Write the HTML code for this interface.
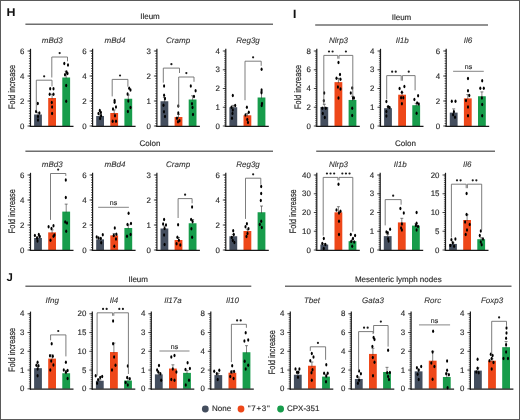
<!DOCTYPE html>
<html><head><meta charset="utf-8"><style>
html,body{margin:0;padding:0;background:#fff;}
#f{position:relative;width:520px;height:420px;overflow:hidden;background:#fff;}
svg{position:absolute;left:0;top:0;font-family:"Liberation Sans", sans-serif;will-change:transform;text-rendering:geometricPrecision;filter:blur(0.3px);}
</style></head><body><div id="f">
<svg width="520" height="420" viewBox="0 0 520 420">
<rect x="0.5" y="0.5" width="519" height="419" fill="#fff" stroke="#5a5a5a" stroke-width="1"/>
<text x="6.40" y="16.20" font-size="11.4" text-anchor="start" fill="#111" font-weight="bold" textLength="9.0" lengthAdjust="spacingAndGlyphs">H</text>
<text x="292.90" y="17.80" font-size="12" text-anchor="start" fill="#111" font-weight="bold" stroke="#111" stroke-width="0.1" >I</text>
<text x="6.40" y="280.60" font-size="11.4" text-anchor="start" fill="#111" font-weight="bold" >J</text>
<line x1="25.40" y1="24.20" x2="273.00" y2="24.20" stroke="#6e6e6e" stroke-width="1.6"/>
<text x="150.00" y="18.80" font-size="8" text-anchor="middle" fill="#2a2a2a" stroke="#2a2a2a" stroke-width="0.15" >Ileum</text>
<line x1="25.40" y1="151.30" x2="273.00" y2="151.30" stroke="#6e6e6e" stroke-width="1.6"/>
<text x="150.00" y="146.40" font-size="8" text-anchor="middle" fill="#2a2a2a" stroke="#2a2a2a" stroke-width="0.15" >Colon</text>
<line x1="315.20" y1="25.00" x2="488.00" y2="25.00" stroke="#6e6e6e" stroke-width="1.6"/>
<text x="401.50" y="19.80" font-size="8" text-anchor="middle" fill="#2a2a2a" stroke="#2a2a2a" stroke-width="0.15" >Ileum</text>
<line x1="316.20" y1="151.30" x2="495.00" y2="151.30" stroke="#6e6e6e" stroke-width="1.6"/>
<text x="405.40" y="146.40" font-size="8" text-anchor="middle" fill="#2a2a2a" stroke="#2a2a2a" stroke-width="0.15" >Colon</text>
<line x1="25.40" y1="286.30" x2="251.30" y2="286.30" stroke="#6e6e6e" stroke-width="1.6"/>
<text x="138.20" y="282.00" font-size="8" text-anchor="middle" fill="#2a2a2a" stroke="#2a2a2a" stroke-width="0.15" >Ileum</text>
<line x1="285.00" y1="286.30" x2="511.50" y2="286.30" stroke="#6e6e6e" stroke-width="1.6"/>
<text x="398.30" y="281.80" font-size="8" text-anchor="middle" fill="#2a2a2a" stroke="#2a2a2a" stroke-width="0.15" >Mesenteric lymph nodes</text>
<text transform="translate(12.40,87.00) rotate(-90) scale(0.78,1)" x="0" y="0" font-size="9.4" text-anchor="middle" fill="#2a2a2a" stroke="#2a2a2a" stroke-width="0.2" dominant-baseline="middle">Fold increase</text>
<text transform="translate(12.40,211.20) rotate(-90) scale(0.78,1)" x="0" y="0" font-size="9.4" text-anchor="middle" fill="#2a2a2a" stroke="#2a2a2a" stroke-width="0.2" dominant-baseline="middle">Fold increase</text>
<text transform="translate(299.00,87.00) rotate(-90) scale(0.78,1)" x="0" y="0" font-size="9.4" text-anchor="middle" fill="#2a2a2a" stroke="#2a2a2a" stroke-width="0.2" dominant-baseline="middle">Fold increase</text>
<text transform="translate(293.60,211.30) rotate(-90) scale(0.78,1)" x="0" y="0" font-size="9.4" text-anchor="middle" fill="#2a2a2a" stroke="#2a2a2a" stroke-width="0.2" dominant-baseline="middle">Fold increase</text>
<text transform="translate(12.50,349.80) rotate(-90) scale(0.78,1)" x="0" y="0" font-size="9.4" text-anchor="middle" fill="#2a2a2a" stroke="#2a2a2a" stroke-width="0.2" dominant-baseline="middle">Fold increase</text>
<text transform="translate(272.50,352.20) rotate(-90) scale(0.78,1)" x="0" y="0" font-size="9.4" text-anchor="middle" fill="#2a2a2a" stroke="#2a2a2a" stroke-width="0.2" dominant-baseline="middle">Fold increase</text>
<path d="M30.50 126.00h-1.6M30.50 123.50h-1.6M30.50 121.00h-1.6M30.50 118.50h-1.6M30.50 116.00h-1.6M30.50 113.50h-1.6M30.50 111.00h-1.6M30.50 108.50h-1.6M30.50 106.00h-1.6M30.50 103.50h-1.6M30.50 101.00h-1.6M30.50 98.50h-1.6M30.50 96.00h-1.6M30.50 93.50h-1.6M30.50 91.00h-1.6M30.50 88.50h-1.6M30.50 86.00h-1.6M30.50 83.50h-1.6M30.50 81.00h-1.6M30.50 78.50h-1.6M30.50 76.00h-1.6M30.50 73.50h-1.6M30.50 71.00h-1.6M30.50 68.50h-1.6M30.50 66.00h-1.6M30.50 63.50h-1.6M30.50 61.00h-1.6M30.50 58.50h-1.6M30.50 56.00h-1.6M30.50 53.50h-1.6M30.50 51.00h-1.6" stroke="#222" stroke-width="0.7"/>
<line x1="27.50" y1="126.00" x2="30.50" y2="126.00" stroke="#222" stroke-width="0.8"/>
<text x="24.50" y="128.50" font-size="7.9" text-anchor="end" fill="#2a2a2a" stroke="#2a2a2a" stroke-width="0.15" >0</text>
<line x1="27.50" y1="101.00" x2="30.50" y2="101.00" stroke="#222" stroke-width="0.8"/>
<text x="24.50" y="103.50" font-size="7.9" text-anchor="end" fill="#2a2a2a" stroke="#2a2a2a" stroke-width="0.15" >2</text>
<line x1="27.50" y1="76.00" x2="30.50" y2="76.00" stroke="#222" stroke-width="0.8"/>
<text x="24.50" y="78.50" font-size="7.9" text-anchor="end" fill="#2a2a2a" stroke="#2a2a2a" stroke-width="0.15" >4</text>
<line x1="27.50" y1="51.00" x2="30.50" y2="51.00" stroke="#222" stroke-width="0.8"/>
<text x="24.50" y="53.50" font-size="7.9" text-anchor="end" fill="#2a2a2a" stroke="#2a2a2a" stroke-width="0.15" >6</text>
<rect x="34.10" y="114.50" width="7.8" height="11.50" fill="#444e5e"/>
<rect x="48.20" y="98.00" width="7.8" height="28.00" fill="#ee4719"/>
<rect x="62.30" y="77.50" width="7.8" height="48.50" fill="#179c4b"/>
<line x1="30.50" y1="48.80" x2="30.50" y2="126.90" stroke="#1a1a1a" stroke-width="1.2"/>
<line x1="30.00" y1="126.30" x2="73.50" y2="126.30" stroke="#1a1a1a" stroke-width="1.3"/>
<line x1="38.00" y1="115.50" x2="38.00" y2="112.62" stroke="#333" stroke-width="0.6"/>
<line x1="36.50" y1="112.62" x2="39.50" y2="112.62" stroke="#333" stroke-width="0.6"/>
<line x1="52.10" y1="99.00" x2="52.10" y2="94.25" stroke="#333" stroke-width="0.6"/>
<line x1="50.60" y1="94.25" x2="53.60" y2="94.25" stroke="#333" stroke-width="0.6"/>
<line x1="66.20" y1="78.50" x2="66.20" y2="71.25" stroke="#333" stroke-width="0.6"/>
<line x1="64.70" y1="71.25" x2="67.70" y2="71.25" stroke="#333" stroke-width="0.6"/>
<ellipse cx="37.80" cy="103.38" rx="1.05" ry="1.75" fill="#000"/>
<ellipse cx="36.10" cy="111.50" rx="1.05" ry="1.75" fill="#000"/>
<ellipse cx="39.40" cy="113.12" rx="1.05" ry="1.75" fill="#000"/>
<ellipse cx="38.00" cy="116.62" rx="1.05" ry="1.75" fill="#000"/>
<ellipse cx="38.00" cy="119.88" rx="1.05" ry="1.75" fill="#000"/>
<ellipse cx="50.20" cy="88.75" rx="1.05" ry="1.75" fill="#000"/>
<ellipse cx="53.50" cy="88.75" rx="1.05" ry="1.75" fill="#000"/>
<ellipse cx="49.70" cy="94.25" rx="1.05" ry="1.75" fill="#000"/>
<ellipse cx="53.50" cy="94.25" rx="1.05" ry="1.75" fill="#000"/>
<ellipse cx="51.80" cy="102.38" rx="1.05" ry="1.75" fill="#000"/>
<ellipse cx="52.10" cy="106.88" rx="1.05" ry="1.75" fill="#000"/>
<ellipse cx="52.10" cy="113.50" rx="1.05" ry="1.75" fill="#000"/>
<ellipse cx="64.30" cy="63.62" rx="1.05" ry="1.75" fill="#000"/>
<ellipse cx="68.00" cy="64.88" rx="1.05" ry="1.75" fill="#000"/>
<ellipse cx="66.40" cy="72.12" rx="1.05" ry="1.75" fill="#000"/>
<ellipse cx="65.00" cy="74.75" rx="1.05" ry="1.75" fill="#000"/>
<ellipse cx="67.50" cy="73.50" rx="1.05" ry="1.75" fill="#000"/>
<ellipse cx="66.20" cy="85.62" rx="1.05" ry="1.75" fill="#000"/>
<ellipse cx="66.20" cy="101.25" rx="1.05" ry="1.75" fill="#000"/>
<text x="52.20" y="42.70" font-size="8" text-anchor="middle" fill="#333" font-style="italic" stroke="#333" stroke-width="0.1" >mBd3</text>
<polyline points="36.30,110.70 36.30,80.20 52.00,80.20 52.00,86.30" fill="none" stroke="#666" stroke-width="0.85"/>
<ellipse cx="44.15" cy="76.30" rx="1.1" ry="1.1" fill="#1a1a1a"/>
<polyline points="51.80,77.50 51.80,57.00 67.50,57.00 67.50,61.30" fill="none" stroke="#666" stroke-width="0.85"/>
<ellipse cx="59.65" cy="53.10" rx="1.1" ry="1.1" fill="#1a1a1a"/>
<path d="M92.60 126.00h-1.6M92.60 123.50h-1.6M92.60 121.00h-1.6M92.60 118.50h-1.6M92.60 116.00h-1.6M92.60 113.50h-1.6M92.60 111.00h-1.6M92.60 108.50h-1.6M92.60 106.00h-1.6M92.60 103.50h-1.6M92.60 101.00h-1.6M92.60 98.50h-1.6M92.60 96.00h-1.6M92.60 93.50h-1.6M92.60 91.00h-1.6M92.60 88.50h-1.6M92.60 86.00h-1.6M92.60 83.50h-1.6M92.60 81.00h-1.6M92.60 78.50h-1.6M92.60 76.00h-1.6M92.60 73.50h-1.6M92.60 71.00h-1.6M92.60 68.50h-1.6M92.60 66.00h-1.6M92.60 63.50h-1.6M92.60 61.00h-1.6M92.60 58.50h-1.6M92.60 56.00h-1.6M92.60 53.50h-1.6M92.60 51.00h-1.6" stroke="#222" stroke-width="0.7"/>
<line x1="89.60" y1="126.00" x2="92.60" y2="126.00" stroke="#222" stroke-width="0.8"/>
<text x="86.60" y="128.50" font-size="7.9" text-anchor="end" fill="#2a2a2a" stroke="#2a2a2a" stroke-width="0.15" >0</text>
<line x1="89.60" y1="101.00" x2="92.60" y2="101.00" stroke="#222" stroke-width="0.8"/>
<text x="86.60" y="103.50" font-size="7.9" text-anchor="end" fill="#2a2a2a" stroke="#2a2a2a" stroke-width="0.15" >2</text>
<line x1="89.60" y1="76.00" x2="92.60" y2="76.00" stroke="#222" stroke-width="0.8"/>
<text x="86.60" y="78.50" font-size="7.9" text-anchor="end" fill="#2a2a2a" stroke="#2a2a2a" stroke-width="0.15" >4</text>
<line x1="89.60" y1="51.00" x2="92.60" y2="51.00" stroke="#222" stroke-width="0.8"/>
<text x="86.60" y="53.50" font-size="7.9" text-anchor="end" fill="#2a2a2a" stroke="#2a2a2a" stroke-width="0.15" >6</text>
<rect x="96.20" y="116.00" width="7.8" height="10.00" fill="#444e5e"/>
<rect x="110.30" y="113.00" width="7.8" height="13.00" fill="#ee4719"/>
<rect x="124.40" y="98.75" width="7.8" height="27.25" fill="#179c4b"/>
<line x1="92.60" y1="48.80" x2="92.60" y2="126.90" stroke="#1a1a1a" stroke-width="1.2"/>
<line x1="92.10" y1="126.30" x2="135.60" y2="126.30" stroke="#1a1a1a" stroke-width="1.3"/>
<line x1="100.10" y1="117.00" x2="100.10" y2="114.75" stroke="#333" stroke-width="0.6"/>
<line x1="98.60" y1="114.75" x2="101.60" y2="114.75" stroke="#333" stroke-width="0.6"/>
<line x1="114.20" y1="114.00" x2="114.20" y2="109.88" stroke="#333" stroke-width="0.6"/>
<line x1="112.70" y1="109.88" x2="115.70" y2="109.88" stroke="#333" stroke-width="0.6"/>
<line x1="128.30" y1="99.75" x2="128.30" y2="95.00" stroke="#333" stroke-width="0.6"/>
<line x1="126.80" y1="95.00" x2="129.80" y2="95.00" stroke="#333" stroke-width="0.6"/>
<ellipse cx="99.80" cy="110.50" rx="1.05" ry="1.75" fill="#000"/>
<ellipse cx="100.90" cy="112.62" rx="1.05" ry="1.75" fill="#000"/>
<ellipse cx="98.50" cy="113.50" rx="1.05" ry="1.75" fill="#000"/>
<ellipse cx="101.10" cy="115.75" rx="1.05" ry="1.75" fill="#000"/>
<ellipse cx="100.10" cy="118.50" rx="1.05" ry="1.75" fill="#000"/>
<ellipse cx="114.60" cy="100.50" rx="1.05" ry="1.75" fill="#000"/>
<ellipse cx="114.60" cy="102.25" rx="1.05" ry="1.75" fill="#000"/>
<ellipse cx="116.00" cy="106.88" rx="1.05" ry="1.75" fill="#000"/>
<ellipse cx="113.00" cy="109.00" rx="1.05" ry="1.75" fill="#000"/>
<ellipse cx="115.00" cy="115.75" rx="1.05" ry="1.75" fill="#000"/>
<ellipse cx="112.70" cy="121.25" rx="1.05" ry="1.75" fill="#000"/>
<ellipse cx="116.00" cy="121.25" rx="1.05" ry="1.75" fill="#000"/>
<ellipse cx="129.20" cy="88.25" rx="1.05" ry="1.75" fill="#000"/>
<ellipse cx="130.50" cy="89.88" rx="1.05" ry="1.75" fill="#000"/>
<ellipse cx="127.60" cy="94.00" rx="1.05" ry="1.75" fill="#000"/>
<ellipse cx="128.30" cy="101.00" rx="1.05" ry="1.75" fill="#000"/>
<ellipse cx="130.50" cy="107.62" rx="1.05" ry="1.75" fill="#000"/>
<ellipse cx="127.90" cy="111.50" rx="1.05" ry="1.75" fill="#000"/>
<text x="115.00" y="42.70" font-size="8" text-anchor="middle" fill="#333" font-style="italic" stroke="#333" stroke-width="0.1" >mBd4</text>
<polyline points="112.20,96.40 112.20,79.40 127.90,79.40 127.90,86.70" fill="none" stroke="#666" stroke-width="0.85"/>
<ellipse cx="120.05" cy="75.50" rx="1.1" ry="1.1" fill="#1a1a1a"/>
<path d="M156.90 126.00h-1.6M156.90 123.50h-1.6M156.90 121.00h-1.6M156.90 118.50h-1.6M156.90 116.00h-1.6M156.90 113.50h-1.6M156.90 111.00h-1.6M156.90 108.50h-1.6M156.90 106.00h-1.6M156.90 103.50h-1.6M156.90 101.00h-1.6M156.90 98.50h-1.6M156.90 96.00h-1.6M156.90 93.50h-1.6M156.90 91.00h-1.6M156.90 88.50h-1.6M156.90 86.00h-1.6M156.90 83.50h-1.6M156.90 81.00h-1.6M156.90 78.50h-1.6M156.90 76.00h-1.6M156.90 73.50h-1.6M156.90 71.00h-1.6M156.90 68.50h-1.6M156.90 66.00h-1.6M156.90 63.50h-1.6M156.90 61.00h-1.6M156.90 58.50h-1.6M156.90 56.00h-1.6M156.90 53.50h-1.6M156.90 51.00h-1.6" stroke="#222" stroke-width="0.7"/>
<line x1="153.90" y1="126.00" x2="156.90" y2="126.00" stroke="#222" stroke-width="0.8"/>
<text x="150.90" y="128.50" font-size="7.9" text-anchor="end" fill="#2a2a2a" stroke="#2a2a2a" stroke-width="0.15" >0</text>
<line x1="153.90" y1="101.00" x2="156.90" y2="101.00" stroke="#222" stroke-width="0.8"/>
<text x="150.90" y="103.50" font-size="7.9" text-anchor="end" fill="#2a2a2a" stroke="#2a2a2a" stroke-width="0.15" >1</text>
<line x1="153.90" y1="76.00" x2="156.90" y2="76.00" stroke="#222" stroke-width="0.8"/>
<text x="150.90" y="78.50" font-size="7.9" text-anchor="end" fill="#2a2a2a" stroke="#2a2a2a" stroke-width="0.15" >2</text>
<line x1="153.90" y1="51.00" x2="156.90" y2="51.00" stroke="#222" stroke-width="0.8"/>
<text x="150.90" y="53.50" font-size="7.9" text-anchor="end" fill="#2a2a2a" stroke="#2a2a2a" stroke-width="0.15" >3</text>
<rect x="160.50" y="101.25" width="7.8" height="24.75" fill="#444e5e"/>
<rect x="174.60" y="117.00" width="7.8" height="9.00" fill="#ee4719"/>
<rect x="188.70" y="99.50" width="7.8" height="26.50" fill="#179c4b"/>
<line x1="156.90" y1="48.80" x2="156.90" y2="126.90" stroke="#1a1a1a" stroke-width="1.2"/>
<line x1="156.40" y1="126.30" x2="199.90" y2="126.30" stroke="#1a1a1a" stroke-width="1.3"/>
<line x1="164.40" y1="102.25" x2="164.40" y2="97.50" stroke="#333" stroke-width="0.6"/>
<line x1="162.90" y1="97.50" x2="165.90" y2="97.50" stroke="#333" stroke-width="0.6"/>
<line x1="178.50" y1="118.00" x2="178.50" y2="114.50" stroke="#333" stroke-width="0.6"/>
<line x1="177.00" y1="114.50" x2="180.00" y2="114.50" stroke="#333" stroke-width="0.6"/>
<line x1="192.60" y1="100.50" x2="192.60" y2="95.75" stroke="#333" stroke-width="0.6"/>
<line x1="191.10" y1="95.75" x2="194.10" y2="95.75" stroke="#333" stroke-width="0.6"/>
<ellipse cx="164.10" cy="86.00" rx="1.05" ry="1.75" fill="#000"/>
<ellipse cx="164.10" cy="95.25" rx="1.05" ry="1.75" fill="#000"/>
<ellipse cx="165.00" cy="98.75" rx="1.05" ry="1.75" fill="#000"/>
<ellipse cx="163.50" cy="105.25" rx="1.05" ry="1.75" fill="#000"/>
<ellipse cx="164.00" cy="111.75" rx="1.05" ry="1.75" fill="#000"/>
<ellipse cx="165.00" cy="116.50" rx="1.05" ry="1.75" fill="#000"/>
<ellipse cx="178.30" cy="106.00" rx="1.05" ry="1.75" fill="#000"/>
<ellipse cx="178.30" cy="113.00" rx="1.05" ry="1.75" fill="#000"/>
<ellipse cx="177.00" cy="118.25" rx="1.05" ry="1.75" fill="#000"/>
<ellipse cx="179.50" cy="120.75" rx="1.05" ry="1.75" fill="#000"/>
<ellipse cx="178.00" cy="121.75" rx="1.05" ry="1.75" fill="#000"/>
<ellipse cx="190.80" cy="86.00" rx="1.05" ry="1.75" fill="#000"/>
<ellipse cx="195.60" cy="90.75" rx="1.05" ry="1.75" fill="#000"/>
<ellipse cx="194.00" cy="96.50" rx="1.05" ry="1.75" fill="#000"/>
<ellipse cx="192.00" cy="103.75" rx="1.05" ry="1.75" fill="#000"/>
<ellipse cx="192.50" cy="107.50" rx="1.05" ry="1.75" fill="#000"/>
<ellipse cx="193.00" cy="114.50" rx="1.05" ry="1.75" fill="#000"/>
<text x="178.10" y="42.70" font-size="8" text-anchor="middle" fill="#333" font-style="italic" stroke="#333" stroke-width="0.1" >Cramp</text>
<polyline points="163.30,82.70 163.30,68.10 179.50,68.10 179.50,73.00" fill="none" stroke="#666" stroke-width="0.85"/>
<ellipse cx="171.40" cy="64.20" rx="1.1" ry="1.1" fill="#1a1a1a"/>
<polyline points="178.70,107.00 178.70,77.00 194.00,77.00 194.00,81.80" fill="none" stroke="#666" stroke-width="0.85"/>
<ellipse cx="186.35" cy="73.10" rx="1.1" ry="1.1" fill="#1a1a1a"/>
<path d="M225.80 126.00h-1.6M225.80 124.12h-1.6M225.80 122.25h-1.6M225.80 120.38h-1.6M225.80 118.50h-1.6M225.80 116.62h-1.6M225.80 114.75h-1.6M225.80 112.88h-1.6M225.80 111.00h-1.6M225.80 109.12h-1.6M225.80 107.25h-1.6M225.80 105.38h-1.6M225.80 103.50h-1.6M225.80 101.62h-1.6M225.80 99.75h-1.6M225.80 97.88h-1.6M225.80 96.00h-1.6M225.80 94.12h-1.6M225.80 92.25h-1.6M225.80 90.38h-1.6M225.80 88.50h-1.6M225.80 86.62h-1.6M225.80 84.75h-1.6M225.80 82.88h-1.6M225.80 81.00h-1.6M225.80 79.12h-1.6M225.80 77.25h-1.6M225.80 75.38h-1.6M225.80 73.50h-1.6M225.80 71.62h-1.6M225.80 69.75h-1.6M225.80 67.88h-1.6M225.80 66.00h-1.6M225.80 64.12h-1.6M225.80 62.25h-1.6M225.80 60.38h-1.6M225.80 58.50h-1.6M225.80 56.62h-1.6M225.80 54.75h-1.6M225.80 52.88h-1.6M225.80 51.00h-1.6" stroke="#222" stroke-width="0.7"/>
<line x1="222.80" y1="126.00" x2="225.80" y2="126.00" stroke="#222" stroke-width="0.8"/>
<text x="219.80" y="128.50" font-size="7.9" text-anchor="end" fill="#2a2a2a" stroke="#2a2a2a" stroke-width="0.15" >0</text>
<line x1="222.80" y1="107.25" x2="225.80" y2="107.25" stroke="#222" stroke-width="0.8"/>
<text x="219.80" y="109.75" font-size="7.9" text-anchor="end" fill="#2a2a2a" stroke="#2a2a2a" stroke-width="0.15" >1</text>
<line x1="222.80" y1="88.50" x2="225.80" y2="88.50" stroke="#222" stroke-width="0.8"/>
<text x="219.80" y="91.00" font-size="7.9" text-anchor="end" fill="#2a2a2a" stroke="#2a2a2a" stroke-width="0.15" >2</text>
<line x1="222.80" y1="69.75" x2="225.80" y2="69.75" stroke="#222" stroke-width="0.8"/>
<text x="219.80" y="72.25" font-size="7.9" text-anchor="end" fill="#2a2a2a" stroke="#2a2a2a" stroke-width="0.15" >3</text>
<line x1="222.80" y1="51.00" x2="225.80" y2="51.00" stroke="#222" stroke-width="0.8"/>
<text x="219.80" y="53.50" font-size="7.9" text-anchor="end" fill="#2a2a2a" stroke="#2a2a2a" stroke-width="0.15" >4</text>
<rect x="229.40" y="107.25" width="7.8" height="18.75" fill="#444e5e"/>
<rect x="243.50" y="115.31" width="7.8" height="10.69" fill="#ee4719"/>
<rect x="257.60" y="97.50" width="7.8" height="28.50" fill="#179c4b"/>
<line x1="225.80" y1="48.80" x2="225.80" y2="126.90" stroke="#1a1a1a" stroke-width="1.2"/>
<line x1="225.30" y1="126.30" x2="268.80" y2="126.30" stroke="#1a1a1a" stroke-width="1.3"/>
<line x1="233.30" y1="108.25" x2="233.30" y2="105.38" stroke="#333" stroke-width="0.6"/>
<line x1="231.80" y1="105.38" x2="234.80" y2="105.38" stroke="#333" stroke-width="0.6"/>
<line x1="247.40" y1="116.31" x2="247.40" y2="113.44" stroke="#333" stroke-width="0.6"/>
<line x1="245.90" y1="113.44" x2="248.90" y2="113.44" stroke="#333" stroke-width="0.6"/>
<line x1="261.50" y1="98.50" x2="261.50" y2="91.88" stroke="#333" stroke-width="0.6"/>
<line x1="260.00" y1="91.88" x2="263.00" y2="91.88" stroke="#333" stroke-width="0.6"/>
<ellipse cx="232.80" cy="95.44" rx="1.05" ry="1.75" fill="#000"/>
<ellipse cx="235.20" cy="105.38" rx="1.05" ry="1.75" fill="#000"/>
<ellipse cx="231.50" cy="107.25" rx="1.05" ry="1.75" fill="#000"/>
<ellipse cx="232.80" cy="110.06" rx="1.05" ry="1.75" fill="#000"/>
<ellipse cx="232.50" cy="113.62" rx="1.05" ry="1.75" fill="#000"/>
<ellipse cx="232.00" cy="118.31" rx="1.05" ry="1.75" fill="#000"/>
<ellipse cx="246.90" cy="107.25" rx="1.05" ry="1.75" fill="#000"/>
<ellipse cx="248.80" cy="112.31" rx="1.05" ry="1.75" fill="#000"/>
<ellipse cx="245.50" cy="114.94" rx="1.05" ry="1.75" fill="#000"/>
<ellipse cx="247.30" cy="119.62" rx="1.05" ry="1.75" fill="#000"/>
<ellipse cx="248.00" cy="122.44" rx="1.05" ry="1.75" fill="#000"/>
<ellipse cx="261.60" cy="69.19" rx="1.05" ry="1.75" fill="#000"/>
<ellipse cx="261.60" cy="90.00" rx="1.05" ry="1.75" fill="#000"/>
<ellipse cx="261.50" cy="92.81" rx="1.05" ry="1.75" fill="#000"/>
<ellipse cx="262.00" cy="103.50" rx="1.05" ry="1.75" fill="#000"/>
<ellipse cx="261.70" cy="105.56" rx="1.05" ry="1.75" fill="#000"/>
<text x="248.00" y="42.70" font-size="8" text-anchor="middle" fill="#333" font-style="italic" stroke="#333" stroke-width="0.1" >Reg3g</text>
<polyline points="245.00,100.20 245.00,61.20 261.20,61.20 261.20,65.80" fill="none" stroke="#666" stroke-width="0.85"/>
<ellipse cx="253.10" cy="57.30" rx="1.1" ry="1.1" fill="#1a1a1a"/>
<path d="M30.50 250.00h-1.6M30.50 247.50h-1.6M30.50 245.00h-1.6M30.50 242.50h-1.6M30.50 240.00h-1.6M30.50 237.50h-1.6M30.50 235.00h-1.6M30.50 232.50h-1.6M30.50 230.00h-1.6M30.50 227.50h-1.6M30.50 225.00h-1.6M30.50 222.50h-1.6M30.50 220.00h-1.6M30.50 217.50h-1.6M30.50 215.00h-1.6M30.50 212.50h-1.6M30.50 210.00h-1.6M30.50 207.50h-1.6M30.50 205.00h-1.6M30.50 202.50h-1.6M30.50 200.00h-1.6M30.50 197.50h-1.6M30.50 195.00h-1.6M30.50 192.50h-1.6M30.50 190.00h-1.6M30.50 187.50h-1.6M30.50 185.00h-1.6M30.50 182.50h-1.6M30.50 180.00h-1.6M30.50 177.50h-1.6M30.50 175.00h-1.6" stroke="#222" stroke-width="0.7"/>
<line x1="27.50" y1="250.00" x2="30.50" y2="250.00" stroke="#222" stroke-width="0.8"/>
<text x="24.50" y="252.50" font-size="7.9" text-anchor="end" fill="#2a2a2a" stroke="#2a2a2a" stroke-width="0.15" >0</text>
<line x1="27.50" y1="225.00" x2="30.50" y2="225.00" stroke="#222" stroke-width="0.8"/>
<text x="24.50" y="227.50" font-size="7.9" text-anchor="end" fill="#2a2a2a" stroke="#2a2a2a" stroke-width="0.15" >2</text>
<line x1="27.50" y1="200.00" x2="30.50" y2="200.00" stroke="#222" stroke-width="0.8"/>
<text x="24.50" y="202.50" font-size="7.9" text-anchor="end" fill="#2a2a2a" stroke="#2a2a2a" stroke-width="0.15" >4</text>
<line x1="27.50" y1="175.00" x2="30.50" y2="175.00" stroke="#222" stroke-width="0.8"/>
<text x="24.50" y="177.50" font-size="7.9" text-anchor="end" fill="#2a2a2a" stroke="#2a2a2a" stroke-width="0.15" >6</text>
<rect x="34.10" y="238.00" width="7.8" height="12.00" fill="#444e5e"/>
<rect x="48.20" y="232.38" width="7.8" height="17.62" fill="#ee4719"/>
<rect x="62.30" y="211.62" width="7.8" height="38.38" fill="#179c4b"/>
<line x1="30.50" y1="172.80" x2="30.50" y2="250.90" stroke="#1a1a1a" stroke-width="1.2"/>
<line x1="30.00" y1="250.30" x2="73.50" y2="250.30" stroke="#1a1a1a" stroke-width="1.3"/>
<line x1="38.00" y1="239.00" x2="38.00" y2="236.75" stroke="#333" stroke-width="0.6"/>
<line x1="36.50" y1="236.75" x2="39.50" y2="236.75" stroke="#333" stroke-width="0.6"/>
<line x1="52.10" y1="233.38" x2="52.10" y2="229.88" stroke="#333" stroke-width="0.6"/>
<line x1="50.60" y1="229.88" x2="53.60" y2="229.88" stroke="#333" stroke-width="0.6"/>
<line x1="66.20" y1="212.62" x2="66.20" y2="204.12" stroke="#333" stroke-width="0.6"/>
<line x1="64.70" y1="204.12" x2="67.70" y2="204.12" stroke="#333" stroke-width="0.6"/>
<ellipse cx="34.90" cy="235.62" rx="1.05" ry="1.75" fill="#000"/>
<ellipse cx="38.80" cy="234.62" rx="1.05" ry="1.75" fill="#000"/>
<ellipse cx="39.80" cy="236.50" rx="1.05" ry="1.75" fill="#000"/>
<ellipse cx="37.00" cy="238.12" rx="1.05" ry="1.75" fill="#000"/>
<ellipse cx="37.50" cy="241.00" rx="1.05" ry="1.75" fill="#000"/>
<ellipse cx="48.60" cy="226.75" rx="1.05" ry="1.75" fill="#000"/>
<ellipse cx="53.50" cy="225.75" rx="1.05" ry="1.75" fill="#000"/>
<ellipse cx="51.50" cy="228.50" rx="1.05" ry="1.75" fill="#000"/>
<ellipse cx="54.40" cy="235.00" rx="1.05" ry="1.75" fill="#000"/>
<ellipse cx="53.50" cy="236.25" rx="1.05" ry="1.75" fill="#000"/>
<ellipse cx="50.50" cy="240.25" rx="1.05" ry="1.75" fill="#000"/>
<ellipse cx="65.80" cy="180.00" rx="1.05" ry="1.75" fill="#000"/>
<ellipse cx="65.80" cy="197.50" rx="1.05" ry="1.75" fill="#000"/>
<ellipse cx="65.20" cy="221.88" rx="1.05" ry="1.75" fill="#000"/>
<ellipse cx="67.00" cy="223.12" rx="1.05" ry="1.75" fill="#000"/>
<ellipse cx="66.20" cy="231.25" rx="1.05" ry="1.75" fill="#000"/>
<text x="52.20" y="166.70" font-size="8" text-anchor="middle" fill="#333" font-style="italic" stroke="#333" stroke-width="0.1" >mBd3</text>
<polyline points="50.50,219.90 50.50,173.50 65.80,173.50 65.80,175.90" fill="none" stroke="#666" stroke-width="0.85"/>
<ellipse cx="58.15" cy="169.60" rx="1.1" ry="1.1" fill="#1a1a1a"/>
<path d="M92.60 250.00h-1.6M92.60 247.50h-1.6M92.60 245.00h-1.6M92.60 242.50h-1.6M92.60 240.00h-1.6M92.60 237.50h-1.6M92.60 235.00h-1.6M92.60 232.50h-1.6M92.60 230.00h-1.6M92.60 227.50h-1.6M92.60 225.00h-1.6M92.60 222.50h-1.6M92.60 220.00h-1.6M92.60 217.50h-1.6M92.60 215.00h-1.6M92.60 212.50h-1.6M92.60 210.00h-1.6M92.60 207.50h-1.6M92.60 205.00h-1.6M92.60 202.50h-1.6M92.60 200.00h-1.6M92.60 197.50h-1.6M92.60 195.00h-1.6M92.60 192.50h-1.6M92.60 190.00h-1.6M92.60 187.50h-1.6M92.60 185.00h-1.6M92.60 182.50h-1.6M92.60 180.00h-1.6M92.60 177.50h-1.6M92.60 175.00h-1.6" stroke="#222" stroke-width="0.7"/>
<line x1="89.60" y1="250.00" x2="92.60" y2="250.00" stroke="#222" stroke-width="0.8"/>
<text x="86.60" y="252.50" font-size="7.9" text-anchor="end" fill="#2a2a2a" stroke="#2a2a2a" stroke-width="0.15" >0</text>
<line x1="89.60" y1="225.00" x2="92.60" y2="225.00" stroke="#222" stroke-width="0.8"/>
<text x="86.60" y="227.50" font-size="7.9" text-anchor="end" fill="#2a2a2a" stroke="#2a2a2a" stroke-width="0.15" >2</text>
<line x1="89.60" y1="200.00" x2="92.60" y2="200.00" stroke="#222" stroke-width="0.8"/>
<text x="86.60" y="202.50" font-size="7.9" text-anchor="end" fill="#2a2a2a" stroke="#2a2a2a" stroke-width="0.15" >4</text>
<line x1="89.60" y1="175.00" x2="92.60" y2="175.00" stroke="#222" stroke-width="0.8"/>
<text x="86.60" y="177.50" font-size="7.9" text-anchor="end" fill="#2a2a2a" stroke="#2a2a2a" stroke-width="0.15" >6</text>
<rect x="96.20" y="239.38" width="7.8" height="10.62" fill="#444e5e"/>
<rect x="110.30" y="235.38" width="7.8" height="14.62" fill="#ee4719"/>
<rect x="124.40" y="228.00" width="7.8" height="22.00" fill="#179c4b"/>
<line x1="92.60" y1="172.80" x2="92.60" y2="250.90" stroke="#1a1a1a" stroke-width="1.2"/>
<line x1="92.10" y1="250.30" x2="135.60" y2="250.30" stroke="#1a1a1a" stroke-width="1.3"/>
<line x1="100.10" y1="240.38" x2="100.10" y2="238.12" stroke="#333" stroke-width="0.6"/>
<line x1="98.60" y1="238.12" x2="101.60" y2="238.12" stroke="#333" stroke-width="0.6"/>
<line x1="114.20" y1="236.38" x2="114.20" y2="233.50" stroke="#333" stroke-width="0.6"/>
<line x1="112.70" y1="233.50" x2="115.70" y2="233.50" stroke="#333" stroke-width="0.6"/>
<line x1="128.30" y1="229.00" x2="128.30" y2="224.88" stroke="#333" stroke-width="0.6"/>
<line x1="126.80" y1="224.88" x2="129.80" y2="224.88" stroke="#333" stroke-width="0.6"/>
<ellipse cx="96.70" cy="237.00" rx="1.05" ry="1.75" fill="#000"/>
<ellipse cx="98.50" cy="238.12" rx="1.05" ry="1.75" fill="#000"/>
<ellipse cx="102.80" cy="234.75" rx="1.05" ry="1.75" fill="#000"/>
<ellipse cx="100.80" cy="238.50" rx="1.05" ry="1.75" fill="#000"/>
<ellipse cx="101.20" cy="242.75" rx="1.05" ry="1.75" fill="#000"/>
<ellipse cx="114.80" cy="227.88" rx="1.05" ry="1.75" fill="#000"/>
<ellipse cx="116.40" cy="234.25" rx="1.05" ry="1.75" fill="#000"/>
<ellipse cx="113.70" cy="235.62" rx="1.05" ry="1.75" fill="#000"/>
<ellipse cx="116.00" cy="239.00" rx="1.05" ry="1.75" fill="#000"/>
<ellipse cx="114.30" cy="246.25" rx="1.05" ry="1.75" fill="#000"/>
<ellipse cx="128.60" cy="213.25" rx="1.05" ry="1.75" fill="#000"/>
<ellipse cx="127.50" cy="224.50" rx="1.05" ry="1.75" fill="#000"/>
<ellipse cx="131.00" cy="223.50" rx="1.05" ry="1.75" fill="#000"/>
<ellipse cx="127.00" cy="236.25" rx="1.05" ry="1.75" fill="#000"/>
<ellipse cx="130.60" cy="234.38" rx="1.05" ry="1.75" fill="#000"/>
<text x="115.00" y="166.70" font-size="8" text-anchor="middle" fill="#333" font-style="italic" stroke="#333" stroke-width="0.1" >mBd4</text>
<line x1="98.10" y1="207.30" x2="128.90" y2="207.30" stroke="#777" stroke-width="0.9"/>
<text x="113.50" y="205.10" font-size="7" text-anchor="middle" fill="#2a2a2a" stroke="#2a2a2a" stroke-width="0.15" >ns</text>
<path d="M156.90 250.00h-1.6M156.90 247.50h-1.6M156.90 245.00h-1.6M156.90 242.50h-1.6M156.90 240.00h-1.6M156.90 237.50h-1.6M156.90 235.00h-1.6M156.90 232.50h-1.6M156.90 230.00h-1.6M156.90 227.50h-1.6M156.90 225.00h-1.6M156.90 222.50h-1.6M156.90 220.00h-1.6M156.90 217.50h-1.6M156.90 215.00h-1.6M156.90 212.50h-1.6M156.90 210.00h-1.6M156.90 207.50h-1.6M156.90 205.00h-1.6M156.90 202.50h-1.6M156.90 200.00h-1.6M156.90 197.50h-1.6M156.90 195.00h-1.6M156.90 192.50h-1.6M156.90 190.00h-1.6M156.90 187.50h-1.6M156.90 185.00h-1.6M156.90 182.50h-1.6M156.90 180.00h-1.6M156.90 177.50h-1.6M156.90 175.00h-1.6" stroke="#222" stroke-width="0.7"/>
<line x1="153.90" y1="250.00" x2="156.90" y2="250.00" stroke="#222" stroke-width="0.8"/>
<text x="150.90" y="252.50" font-size="7.9" text-anchor="end" fill="#2a2a2a" stroke="#2a2a2a" stroke-width="0.15" >0</text>
<line x1="153.90" y1="225.00" x2="156.90" y2="225.00" stroke="#222" stroke-width="0.8"/>
<text x="150.90" y="227.50" font-size="7.9" text-anchor="end" fill="#2a2a2a" stroke="#2a2a2a" stroke-width="0.15" >1</text>
<line x1="153.90" y1="200.00" x2="156.90" y2="200.00" stroke="#222" stroke-width="0.8"/>
<text x="150.90" y="202.50" font-size="7.9" text-anchor="end" fill="#2a2a2a" stroke="#2a2a2a" stroke-width="0.15" >2</text>
<line x1="153.90" y1="175.00" x2="156.90" y2="175.00" stroke="#222" stroke-width="0.8"/>
<text x="150.90" y="177.50" font-size="7.9" text-anchor="end" fill="#2a2a2a" stroke="#2a2a2a" stroke-width="0.15" >3</text>
<rect x="160.50" y="228.50" width="7.8" height="21.50" fill="#444e5e"/>
<rect x="174.60" y="240.00" width="7.8" height="10.00" fill="#ee4719"/>
<rect x="188.70" y="223.25" width="7.8" height="26.75" fill="#179c4b"/>
<line x1="156.90" y1="172.80" x2="156.90" y2="250.90" stroke="#1a1a1a" stroke-width="1.2"/>
<line x1="156.40" y1="250.30" x2="199.90" y2="250.30" stroke="#1a1a1a" stroke-width="1.3"/>
<line x1="164.40" y1="229.50" x2="164.40" y2="226.00" stroke="#333" stroke-width="0.6"/>
<line x1="162.90" y1="226.00" x2="165.90" y2="226.00" stroke="#333" stroke-width="0.6"/>
<line x1="178.50" y1="241.00" x2="178.50" y2="237.50" stroke="#333" stroke-width="0.6"/>
<line x1="177.00" y1="237.50" x2="180.00" y2="237.50" stroke="#333" stroke-width="0.6"/>
<line x1="192.60" y1="224.25" x2="192.60" y2="219.50" stroke="#333" stroke-width="0.6"/>
<line x1="191.10" y1="219.50" x2="194.10" y2="219.50" stroke="#333" stroke-width="0.6"/>
<ellipse cx="164.10" cy="219.50" rx="1.05" ry="1.75" fill="#000"/>
<ellipse cx="163.10" cy="224.00" rx="1.05" ry="1.75" fill="#000"/>
<ellipse cx="166.00" cy="225.00" rx="1.05" ry="1.75" fill="#000"/>
<ellipse cx="164.60" cy="228.50" rx="1.05" ry="1.75" fill="#000"/>
<ellipse cx="164.10" cy="235.00" rx="1.05" ry="1.75" fill="#000"/>
<ellipse cx="164.60" cy="244.50" rx="1.05" ry="1.75" fill="#000"/>
<ellipse cx="178.10" cy="224.75" rx="1.05" ry="1.75" fill="#000"/>
<ellipse cx="177.40" cy="237.25" rx="1.05" ry="1.75" fill="#000"/>
<ellipse cx="178.90" cy="240.25" rx="1.05" ry="1.75" fill="#000"/>
<ellipse cx="176.60" cy="243.75" rx="1.05" ry="1.75" fill="#000"/>
<ellipse cx="180.30" cy="245.00" rx="1.05" ry="1.75" fill="#000"/>
<ellipse cx="192.10" cy="207.00" rx="1.05" ry="1.75" fill="#000"/>
<ellipse cx="191.10" cy="219.50" rx="1.05" ry="1.75" fill="#000"/>
<ellipse cx="192.60" cy="221.50" rx="1.05" ry="1.75" fill="#000"/>
<ellipse cx="192.10" cy="237.25" rx="1.05" ry="1.75" fill="#000"/>
<ellipse cx="191.40" cy="228.75" rx="1.05" ry="1.75" fill="#000"/>
<text x="178.10" y="166.70" font-size="8" text-anchor="middle" fill="#333" font-style="italic" stroke="#333" stroke-width="0.1" >Cramp</text>
<polyline points="178.10,218.00 178.10,198.60 192.10,198.60 192.10,203.30" fill="none" stroke="#666" stroke-width="0.85"/>
<ellipse cx="185.10" cy="194.70" rx="1.1" ry="1.1" fill="#1a1a1a"/>
<path d="M225.80 250.00h-1.6M225.80 247.50h-1.6M225.80 245.00h-1.6M225.80 242.50h-1.6M225.80 240.00h-1.6M225.80 237.50h-1.6M225.80 235.00h-1.6M225.80 232.50h-1.6M225.80 230.00h-1.6M225.80 227.50h-1.6M225.80 225.00h-1.6M225.80 222.50h-1.6M225.80 220.00h-1.6M225.80 217.50h-1.6M225.80 215.00h-1.6M225.80 212.50h-1.6M225.80 210.00h-1.6M225.80 207.50h-1.6M225.80 205.00h-1.6M225.80 202.50h-1.6M225.80 200.00h-1.6M225.80 197.50h-1.6M225.80 195.00h-1.6M225.80 192.50h-1.6M225.80 190.00h-1.6M225.80 187.50h-1.6M225.80 185.00h-1.6M225.80 182.50h-1.6M225.80 180.00h-1.6M225.80 177.50h-1.6M225.80 175.00h-1.6" stroke="#222" stroke-width="0.7"/>
<line x1="222.80" y1="250.00" x2="225.80" y2="250.00" stroke="#222" stroke-width="0.8"/>
<text x="219.80" y="252.50" font-size="7.9" text-anchor="end" fill="#2a2a2a" stroke="#2a2a2a" stroke-width="0.15" >0</text>
<line x1="222.80" y1="225.00" x2="225.80" y2="225.00" stroke="#222" stroke-width="0.8"/>
<text x="219.80" y="227.50" font-size="7.9" text-anchor="end" fill="#2a2a2a" stroke="#2a2a2a" stroke-width="0.15" >2</text>
<line x1="222.80" y1="200.00" x2="225.80" y2="200.00" stroke="#222" stroke-width="0.8"/>
<text x="219.80" y="202.50" font-size="7.9" text-anchor="end" fill="#2a2a2a" stroke="#2a2a2a" stroke-width="0.15" >4</text>
<line x1="222.80" y1="175.00" x2="225.80" y2="175.00" stroke="#222" stroke-width="0.8"/>
<text x="219.80" y="177.50" font-size="7.9" text-anchor="end" fill="#2a2a2a" stroke="#2a2a2a" stroke-width="0.15" >6</text>
<rect x="229.40" y="236.25" width="7.8" height="13.75" fill="#444e5e"/>
<rect x="243.50" y="231.00" width="7.8" height="19.00" fill="#ee4719"/>
<rect x="257.60" y="212.25" width="7.8" height="37.75" fill="#179c4b"/>
<line x1="225.80" y1="172.80" x2="225.80" y2="250.90" stroke="#1a1a1a" stroke-width="1.2"/>
<line x1="225.30" y1="250.30" x2="268.80" y2="250.30" stroke="#1a1a1a" stroke-width="1.3"/>
<line x1="233.30" y1="237.25" x2="233.30" y2="234.38" stroke="#333" stroke-width="0.6"/>
<line x1="231.80" y1="234.38" x2="234.80" y2="234.38" stroke="#333" stroke-width="0.6"/>
<line x1="247.40" y1="232.00" x2="247.40" y2="229.12" stroke="#333" stroke-width="0.6"/>
<line x1="245.90" y1="229.12" x2="248.90" y2="229.12" stroke="#333" stroke-width="0.6"/>
<line x1="261.50" y1="213.25" x2="261.50" y2="206.00" stroke="#333" stroke-width="0.6"/>
<line x1="260.00" y1="206.00" x2="263.00" y2="206.00" stroke="#333" stroke-width="0.6"/>
<ellipse cx="233.20" cy="230.75" rx="1.05" ry="1.75" fill="#000"/>
<ellipse cx="233.80" cy="234.62" rx="1.05" ry="1.75" fill="#000"/>
<ellipse cx="231.80" cy="237.50" rx="1.05" ry="1.75" fill="#000"/>
<ellipse cx="232.80" cy="240.62" rx="1.05" ry="1.75" fill="#000"/>
<ellipse cx="234.40" cy="242.50" rx="1.05" ry="1.75" fill="#000"/>
<ellipse cx="246.90" cy="223.75" rx="1.05" ry="1.75" fill="#000"/>
<ellipse cx="245.50" cy="226.75" rx="1.05" ry="1.75" fill="#000"/>
<ellipse cx="248.50" cy="228.75" rx="1.05" ry="1.75" fill="#000"/>
<ellipse cx="247.50" cy="233.50" rx="1.05" ry="1.75" fill="#000"/>
<ellipse cx="246.50" cy="236.50" rx="1.05" ry="1.75" fill="#000"/>
<ellipse cx="261.20" cy="186.62" rx="1.05" ry="1.75" fill="#000"/>
<ellipse cx="261.20" cy="193.50" rx="1.05" ry="1.75" fill="#000"/>
<ellipse cx="260.80" cy="200.50" rx="1.05" ry="1.75" fill="#000"/>
<ellipse cx="261.20" cy="221.25" rx="1.05" ry="1.75" fill="#000"/>
<ellipse cx="259.80" cy="224.38" rx="1.05" ry="1.75" fill="#000"/>
<ellipse cx="261.80" cy="227.50" rx="1.05" ry="1.75" fill="#000"/>
<text x="248.00" y="166.70" font-size="8" text-anchor="middle" fill="#333" font-style="italic" stroke="#333" stroke-width="0.1" >Reg3g</text>
<polyline points="245.50,218.90 245.50,178.20 260.80,178.20 260.80,184.70" fill="none" stroke="#666" stroke-width="0.85"/>
<ellipse cx="253.15" cy="174.30" rx="1.1" ry="1.1" fill="#1a1a1a"/>
<path d="M316.80 126.00h-1.6M316.80 124.12h-1.6M316.80 122.25h-1.6M316.80 120.38h-1.6M316.80 118.50h-1.6M316.80 116.62h-1.6M316.80 114.75h-1.6M316.80 112.88h-1.6M316.80 111.00h-1.6M316.80 109.12h-1.6M316.80 107.25h-1.6M316.80 105.38h-1.6M316.80 103.50h-1.6M316.80 101.62h-1.6M316.80 99.75h-1.6M316.80 97.88h-1.6M316.80 96.00h-1.6M316.80 94.12h-1.6M316.80 92.25h-1.6M316.80 90.38h-1.6M316.80 88.50h-1.6M316.80 86.62h-1.6M316.80 84.75h-1.6M316.80 82.88h-1.6M316.80 81.00h-1.6M316.80 79.12h-1.6M316.80 77.25h-1.6M316.80 75.38h-1.6M316.80 73.50h-1.6M316.80 71.62h-1.6M316.80 69.75h-1.6M316.80 67.88h-1.6M316.80 66.00h-1.6M316.80 64.12h-1.6M316.80 62.25h-1.6M316.80 60.38h-1.6M316.80 58.50h-1.6M316.80 56.62h-1.6M316.80 54.75h-1.6M316.80 52.88h-1.6M316.80 51.00h-1.6" stroke="#222" stroke-width="0.7"/>
<line x1="313.80" y1="126.00" x2="316.80" y2="126.00" stroke="#222" stroke-width="0.8"/>
<text x="310.80" y="128.50" font-size="7.9" text-anchor="end" fill="#2a2a2a" stroke="#2a2a2a" stroke-width="0.15" >0</text>
<line x1="313.80" y1="107.25" x2="316.80" y2="107.25" stroke="#222" stroke-width="0.8"/>
<text x="310.80" y="109.75" font-size="7.9" text-anchor="end" fill="#2a2a2a" stroke="#2a2a2a" stroke-width="0.15" >2</text>
<line x1="313.80" y1="88.50" x2="316.80" y2="88.50" stroke="#222" stroke-width="0.8"/>
<text x="310.80" y="91.00" font-size="7.9" text-anchor="end" fill="#2a2a2a" stroke="#2a2a2a" stroke-width="0.15" >4</text>
<line x1="313.80" y1="69.75" x2="316.80" y2="69.75" stroke="#222" stroke-width="0.8"/>
<text x="310.80" y="72.25" font-size="7.9" text-anchor="end" fill="#2a2a2a" stroke="#2a2a2a" stroke-width="0.15" >6</text>
<line x1="313.80" y1="51.00" x2="316.80" y2="51.00" stroke="#222" stroke-width="0.8"/>
<text x="310.80" y="53.50" font-size="7.9" text-anchor="end" fill="#2a2a2a" stroke="#2a2a2a" stroke-width="0.15" >8</text>
<rect x="320.40" y="107.06" width="7.8" height="18.94" fill="#444e5e"/>
<rect x="334.50" y="82.12" width="7.8" height="43.88" fill="#ee4719"/>
<rect x="348.60" y="99.94" width="7.8" height="26.06" fill="#179c4b"/>
<line x1="316.80" y1="48.80" x2="316.80" y2="126.90" stroke="#1a1a1a" stroke-width="1.2"/>
<line x1="316.30" y1="126.30" x2="359.80" y2="126.30" stroke="#1a1a1a" stroke-width="1.3"/>
<line x1="324.30" y1="108.06" x2="324.30" y2="104.25" stroke="#333" stroke-width="0.6"/>
<line x1="322.80" y1="104.25" x2="325.80" y2="104.25" stroke="#333" stroke-width="0.6"/>
<line x1="338.40" y1="83.12" x2="338.40" y2="78.38" stroke="#333" stroke-width="0.6"/>
<line x1="336.90" y1="78.38" x2="339.90" y2="78.38" stroke="#333" stroke-width="0.6"/>
<line x1="352.50" y1="100.94" x2="352.50" y2="96.19" stroke="#333" stroke-width="0.6"/>
<line x1="351.00" y1="96.19" x2="354.00" y2="96.19" stroke="#333" stroke-width="0.6"/>
<ellipse cx="324.20" cy="93.00" rx="1.05" ry="1.75" fill="#000"/>
<ellipse cx="323.80" cy="100.78" rx="1.05" ry="1.75" fill="#000"/>
<ellipse cx="322.30" cy="108.19" rx="1.05" ry="1.75" fill="#000"/>
<ellipse cx="325.80" cy="108.19" rx="1.05" ry="1.75" fill="#000"/>
<ellipse cx="322.80" cy="113.53" rx="1.05" ry="1.75" fill="#000"/>
<ellipse cx="324.80" cy="117.38" rx="1.05" ry="1.75" fill="#000"/>
<ellipse cx="338.50" cy="62.62" rx="1.05" ry="1.75" fill="#000"/>
<ellipse cx="340.00" cy="74.44" rx="1.05" ry="1.75" fill="#000"/>
<ellipse cx="336.50" cy="78.28" rx="1.05" ry="1.75" fill="#000"/>
<ellipse cx="340.50" cy="79.31" rx="1.05" ry="1.75" fill="#000"/>
<ellipse cx="337.90" cy="87.09" rx="1.05" ry="1.75" fill="#000"/>
<ellipse cx="340.50" cy="89.06" rx="1.05" ry="1.75" fill="#000"/>
<ellipse cx="338.50" cy="97.88" rx="1.05" ry="1.75" fill="#000"/>
<ellipse cx="352.20" cy="88.12" rx="1.05" ry="1.75" fill="#000"/>
<ellipse cx="350.80" cy="93.00" rx="1.05" ry="1.75" fill="#000"/>
<ellipse cx="353.00" cy="97.88" rx="1.05" ry="1.75" fill="#000"/>
<ellipse cx="354.00" cy="97.88" rx="1.05" ry="1.75" fill="#000"/>
<ellipse cx="352.20" cy="108.19" rx="1.05" ry="1.75" fill="#000"/>
<ellipse cx="352.20" cy="115.50" rx="1.05" ry="1.75" fill="#000"/>
<text x="338.50" y="42.70" font-size="8" text-anchor="middle" fill="#333" font-style="italic" stroke="#333" stroke-width="0.1" >Nlrp3</text>
<polyline points="323.80,104.70 323.80,55.40 337.80,55.40 337.80,58.70" fill="none" stroke="#666" stroke-width="0.85"/>
<ellipse cx="329.00" cy="51.50" rx="1.1" ry="1.1" fill="#1a1a1a"/>
<ellipse cx="332.60" cy="51.50" rx="1.1" ry="1.1" fill="#1a1a1a"/>
<polyline points="339.00,58.70 339.00,55.40 352.80,55.40 352.80,95.90" fill="none" stroke="#666" stroke-width="0.85"/>
<ellipse cx="345.90" cy="51.50" rx="1.1" ry="1.1" fill="#1a1a1a"/>
<path d="M380.50 126.00h-1.6M380.50 124.12h-1.6M380.50 122.25h-1.6M380.50 120.38h-1.6M380.50 118.50h-1.6M380.50 116.62h-1.6M380.50 114.75h-1.6M380.50 112.88h-1.6M380.50 111.00h-1.6M380.50 109.12h-1.6M380.50 107.25h-1.6M380.50 105.38h-1.6M380.50 103.50h-1.6M380.50 101.62h-1.6M380.50 99.75h-1.6M380.50 97.88h-1.6M380.50 96.00h-1.6M380.50 94.12h-1.6M380.50 92.25h-1.6M380.50 90.38h-1.6M380.50 88.50h-1.6M380.50 86.62h-1.6M380.50 84.75h-1.6M380.50 82.88h-1.6M380.50 81.00h-1.6M380.50 79.12h-1.6M380.50 77.25h-1.6M380.50 75.38h-1.6M380.50 73.50h-1.6M380.50 71.62h-1.6M380.50 69.75h-1.6M380.50 67.88h-1.6M380.50 66.00h-1.6M380.50 64.12h-1.6M380.50 62.25h-1.6M380.50 60.38h-1.6M380.50 58.50h-1.6M380.50 56.62h-1.6M380.50 54.75h-1.6M380.50 52.88h-1.6M380.50 51.00h-1.6" stroke="#222" stroke-width="0.7"/>
<line x1="377.50" y1="126.00" x2="380.50" y2="126.00" stroke="#222" stroke-width="0.8"/>
<text x="374.50" y="128.50" font-size="7.9" text-anchor="end" fill="#2a2a2a" stroke="#2a2a2a" stroke-width="0.15" >0</text>
<line x1="377.50" y1="107.25" x2="380.50" y2="107.25" stroke="#222" stroke-width="0.8"/>
<text x="374.50" y="109.75" font-size="7.9" text-anchor="end" fill="#2a2a2a" stroke="#2a2a2a" stroke-width="0.15" >1</text>
<line x1="377.50" y1="88.50" x2="380.50" y2="88.50" stroke="#222" stroke-width="0.8"/>
<text x="374.50" y="91.00" font-size="7.9" text-anchor="end" fill="#2a2a2a" stroke="#2a2a2a" stroke-width="0.15" >2</text>
<line x1="377.50" y1="69.75" x2="380.50" y2="69.75" stroke="#222" stroke-width="0.8"/>
<text x="374.50" y="72.25" font-size="7.9" text-anchor="end" fill="#2a2a2a" stroke="#2a2a2a" stroke-width="0.15" >3</text>
<line x1="377.50" y1="51.00" x2="380.50" y2="51.00" stroke="#222" stroke-width="0.8"/>
<text x="374.50" y="53.50" font-size="7.9" text-anchor="end" fill="#2a2a2a" stroke="#2a2a2a" stroke-width="0.15" >4</text>
<rect x="384.10" y="108.19" width="7.8" height="17.81" fill="#444e5e"/>
<rect x="398.20" y="94.69" width="7.8" height="31.31" fill="#ee4719"/>
<rect x="412.30" y="105.19" width="7.8" height="20.81" fill="#179c4b"/>
<line x1="380.50" y1="48.80" x2="380.50" y2="126.90" stroke="#1a1a1a" stroke-width="1.2"/>
<line x1="380.00" y1="126.30" x2="423.50" y2="126.30" stroke="#1a1a1a" stroke-width="1.3"/>
<line x1="388.00" y1="109.19" x2="388.00" y2="106.69" stroke="#333" stroke-width="0.6"/>
<line x1="386.50" y1="106.69" x2="389.50" y2="106.69" stroke="#333" stroke-width="0.6"/>
<line x1="402.10" y1="95.69" x2="402.10" y2="92.44" stroke="#333" stroke-width="0.6"/>
<line x1="400.60" y1="92.44" x2="403.60" y2="92.44" stroke="#333" stroke-width="0.6"/>
<line x1="416.20" y1="106.19" x2="416.20" y2="103.31" stroke="#333" stroke-width="0.6"/>
<line x1="414.70" y1="103.31" x2="417.70" y2="103.31" stroke="#333" stroke-width="0.6"/>
<ellipse cx="386.40" cy="101.44" rx="1.05" ry="1.75" fill="#000"/>
<ellipse cx="388.10" cy="106.69" rx="1.05" ry="1.75" fill="#000"/>
<ellipse cx="389.60" cy="107.62" rx="1.05" ry="1.75" fill="#000"/>
<ellipse cx="386.40" cy="111.56" rx="1.05" ry="1.75" fill="#000"/>
<ellipse cx="386.40" cy="115.88" rx="1.05" ry="1.75" fill="#000"/>
<ellipse cx="399.60" cy="88.50" rx="1.05" ry="1.75" fill="#000"/>
<ellipse cx="404.40" cy="86.62" rx="1.05" ry="1.75" fill="#000"/>
<ellipse cx="401.90" cy="92.25" rx="1.05" ry="1.75" fill="#000"/>
<ellipse cx="401.10" cy="97.69" rx="1.05" ry="1.75" fill="#000"/>
<ellipse cx="403.30" cy="97.69" rx="1.05" ry="1.75" fill="#000"/>
<ellipse cx="401.90" cy="103.69" rx="1.05" ry="1.75" fill="#000"/>
<ellipse cx="418.10" cy="95.81" rx="1.05" ry="1.75" fill="#000"/>
<ellipse cx="414.40" cy="99.56" rx="1.05" ry="1.75" fill="#000"/>
<ellipse cx="417.10" cy="102.94" rx="1.05" ry="1.75" fill="#000"/>
<ellipse cx="418.80" cy="104.06" rx="1.05" ry="1.75" fill="#000"/>
<ellipse cx="416.60" cy="113.25" rx="1.05" ry="1.75" fill="#000"/>
<text x="402.20" y="42.70" font-size="8" text-anchor="middle" fill="#333" font-style="italic" stroke="#333" stroke-width="0.1" >Il1b</text>
<polyline points="386.70,99.20 386.70,75.60 401.20,75.60 401.20,80.70" fill="none" stroke="#666" stroke-width="0.85"/>
<ellipse cx="392.15" cy="71.70" rx="1.1" ry="1.1" fill="#1a1a1a"/>
<ellipse cx="395.75" cy="71.70" rx="1.1" ry="1.1" fill="#1a1a1a"/>
<polyline points="402.40,80.70 402.40,75.60 415.10,75.60 415.10,90.30" fill="none" stroke="#666" stroke-width="0.85"/>
<ellipse cx="408.75" cy="71.70" rx="1.1" ry="1.1" fill="#1a1a1a"/>
<path d="M446.20 126.00h-1.6M446.20 123.50h-1.6M446.20 121.00h-1.6M446.20 118.50h-1.6M446.20 116.00h-1.6M446.20 113.50h-1.6M446.20 111.00h-1.6M446.20 108.50h-1.6M446.20 106.00h-1.6M446.20 103.50h-1.6M446.20 101.00h-1.6M446.20 98.50h-1.6M446.20 96.00h-1.6M446.20 93.50h-1.6M446.20 91.00h-1.6M446.20 88.50h-1.6M446.20 86.00h-1.6M446.20 83.50h-1.6M446.20 81.00h-1.6M446.20 78.50h-1.6M446.20 76.00h-1.6M446.20 73.50h-1.6M446.20 71.00h-1.6M446.20 68.50h-1.6M446.20 66.00h-1.6M446.20 63.50h-1.6M446.20 61.00h-1.6M446.20 58.50h-1.6M446.20 56.00h-1.6M446.20 53.50h-1.6M446.20 51.00h-1.6" stroke="#222" stroke-width="0.7"/>
<line x1="443.20" y1="126.00" x2="446.20" y2="126.00" stroke="#222" stroke-width="0.8"/>
<text x="440.20" y="128.50" font-size="7.9" text-anchor="end" fill="#2a2a2a" stroke="#2a2a2a" stroke-width="0.15" >0</text>
<line x1="443.20" y1="101.00" x2="446.20" y2="101.00" stroke="#222" stroke-width="0.8"/>
<text x="440.20" y="103.50" font-size="7.9" text-anchor="end" fill="#2a2a2a" stroke="#2a2a2a" stroke-width="0.15" >2</text>
<line x1="443.20" y1="76.00" x2="446.20" y2="76.00" stroke="#222" stroke-width="0.8"/>
<text x="440.20" y="78.50" font-size="7.9" text-anchor="end" fill="#2a2a2a" stroke="#2a2a2a" stroke-width="0.15" >4</text>
<line x1="443.20" y1="51.00" x2="446.20" y2="51.00" stroke="#222" stroke-width="0.8"/>
<text x="440.20" y="53.50" font-size="7.9" text-anchor="end" fill="#2a2a2a" stroke="#2a2a2a" stroke-width="0.15" >6</text>
<rect x="449.80" y="112.62" width="7.8" height="13.38" fill="#444e5e"/>
<rect x="463.90" y="98.38" width="7.8" height="27.62" fill="#ee4719"/>
<rect x="478.00" y="96.25" width="7.8" height="29.75" fill="#179c4b"/>
<line x1="446.20" y1="48.80" x2="446.20" y2="126.90" stroke="#1a1a1a" stroke-width="1.2"/>
<line x1="445.70" y1="126.30" x2="489.20" y2="126.30" stroke="#1a1a1a" stroke-width="1.3"/>
<line x1="453.70" y1="113.62" x2="453.70" y2="108.88" stroke="#333" stroke-width="0.6"/>
<line x1="452.20" y1="108.88" x2="455.20" y2="108.88" stroke="#333" stroke-width="0.6"/>
<line x1="467.80" y1="99.38" x2="467.80" y2="94.62" stroke="#333" stroke-width="0.6"/>
<line x1="466.30" y1="94.62" x2="469.30" y2="94.62" stroke="#333" stroke-width="0.6"/>
<line x1="481.90" y1="97.25" x2="481.90" y2="91.88" stroke="#333" stroke-width="0.6"/>
<line x1="480.40" y1="91.88" x2="483.40" y2="91.88" stroke="#333" stroke-width="0.6"/>
<ellipse cx="451.80" cy="101.25" rx="1.05" ry="1.75" fill="#000"/>
<ellipse cx="455.50" cy="101.25" rx="1.05" ry="1.75" fill="#000"/>
<ellipse cx="453.90" cy="111.75" rx="1.05" ry="1.75" fill="#000"/>
<ellipse cx="453.10" cy="114.75" rx="1.05" ry="1.75" fill="#000"/>
<ellipse cx="455.00" cy="117.25" rx="1.05" ry="1.75" fill="#000"/>
<ellipse cx="468.00" cy="78.62" rx="1.05" ry="1.75" fill="#000"/>
<ellipse cx="468.00" cy="90.75" rx="1.05" ry="1.75" fill="#000"/>
<ellipse cx="469.30" cy="95.62" rx="1.05" ry="1.75" fill="#000"/>
<ellipse cx="466.00" cy="100.50" rx="1.05" ry="1.75" fill="#000"/>
<ellipse cx="468.00" cy="106.88" rx="1.05" ry="1.75" fill="#000"/>
<ellipse cx="468.00" cy="115.75" rx="1.05" ry="1.75" fill="#000"/>
<ellipse cx="482.20" cy="80.75" rx="1.05" ry="1.75" fill="#000"/>
<ellipse cx="480.30" cy="88.25" rx="1.05" ry="1.75" fill="#000"/>
<ellipse cx="483.80" cy="88.25" rx="1.05" ry="1.75" fill="#000"/>
<ellipse cx="481.90" cy="98.00" rx="1.05" ry="1.75" fill="#000"/>
<ellipse cx="482.20" cy="104.50" rx="1.05" ry="1.75" fill="#000"/>
<ellipse cx="482.20" cy="115.75" rx="1.05" ry="1.75" fill="#000"/>
<text x="467.90" y="42.70" font-size="8" text-anchor="middle" fill="#333" font-style="italic" stroke="#333" stroke-width="0.1" >Il6</text>
<line x1="453.10" y1="71.30" x2="483.80" y2="71.30" stroke="#777" stroke-width="0.9"/>
<text x="468.45" y="69.10" font-size="7" text-anchor="middle" fill="#2a2a2a" stroke="#2a2a2a" stroke-width="0.15" >ns</text>
<path d="M316.80 250.00h-1.6M316.80 248.12h-1.6M316.80 246.25h-1.6M316.80 244.38h-1.6M316.80 242.50h-1.6M316.80 240.62h-1.6M316.80 238.75h-1.6M316.80 236.88h-1.6M316.80 235.00h-1.6M316.80 233.12h-1.6M316.80 231.25h-1.6M316.80 229.38h-1.6M316.80 227.50h-1.6M316.80 225.62h-1.6M316.80 223.75h-1.6M316.80 221.88h-1.6M316.80 220.00h-1.6M316.80 218.12h-1.6M316.80 216.25h-1.6M316.80 214.38h-1.6M316.80 212.50h-1.6M316.80 210.62h-1.6M316.80 208.75h-1.6M316.80 206.88h-1.6M316.80 205.00h-1.6M316.80 203.12h-1.6M316.80 201.25h-1.6M316.80 199.38h-1.6M316.80 197.50h-1.6M316.80 195.62h-1.6M316.80 193.75h-1.6M316.80 191.88h-1.6M316.80 190.00h-1.6M316.80 188.12h-1.6M316.80 186.25h-1.6M316.80 184.38h-1.6M316.80 182.50h-1.6M316.80 180.62h-1.6M316.80 178.75h-1.6M316.80 176.88h-1.6M316.80 175.00h-1.6" stroke="#222" stroke-width="0.7"/>
<line x1="313.80" y1="250.00" x2="316.80" y2="250.00" stroke="#222" stroke-width="0.8"/>
<text x="310.80" y="252.50" font-size="7.9" text-anchor="end" fill="#2a2a2a" stroke="#2a2a2a" stroke-width="0.15" >0</text>
<line x1="313.80" y1="231.25" x2="316.80" y2="231.25" stroke="#222" stroke-width="0.8"/>
<text x="310.80" y="233.75" font-size="7.9" text-anchor="end" fill="#2a2a2a" stroke="#2a2a2a" stroke-width="0.15" >10</text>
<line x1="313.80" y1="212.50" x2="316.80" y2="212.50" stroke="#222" stroke-width="0.8"/>
<text x="310.80" y="215.00" font-size="7.9" text-anchor="end" fill="#2a2a2a" stroke="#2a2a2a" stroke-width="0.15" >20</text>
<line x1="313.80" y1="193.75" x2="316.80" y2="193.75" stroke="#222" stroke-width="0.8"/>
<text x="310.80" y="196.25" font-size="7.9" text-anchor="end" fill="#2a2a2a" stroke="#2a2a2a" stroke-width="0.15" >30</text>
<line x1="313.80" y1="175.00" x2="316.80" y2="175.00" stroke="#222" stroke-width="0.8"/>
<text x="310.80" y="177.50" font-size="7.9" text-anchor="end" fill="#2a2a2a" stroke="#2a2a2a" stroke-width="0.15" >40</text>
<rect x="320.40" y="244.56" width="7.8" height="5.44" fill="#444e5e"/>
<rect x="334.50" y="212.31" width="7.8" height="37.69" fill="#ee4719"/>
<rect x="348.60" y="241.19" width="7.8" height="8.81" fill="#179c4b"/>
<line x1="316.80" y1="172.80" x2="316.80" y2="250.90" stroke="#1a1a1a" stroke-width="1.2"/>
<line x1="316.30" y1="250.30" x2="359.80" y2="250.30" stroke="#1a1a1a" stroke-width="1.3"/>
<line x1="324.30" y1="245.56" x2="324.30" y2="243.62" stroke="#333" stroke-width="0.6"/>
<line x1="322.80" y1="243.62" x2="325.80" y2="243.62" stroke="#333" stroke-width="0.6"/>
<line x1="338.40" y1="213.31" x2="338.40" y2="206.69" stroke="#333" stroke-width="0.6"/>
<line x1="336.90" y1="206.69" x2="339.90" y2="206.69" stroke="#333" stroke-width="0.6"/>
<line x1="352.50" y1="242.19" x2="352.50" y2="239.31" stroke="#333" stroke-width="0.6"/>
<line x1="351.00" y1="239.31" x2="354.00" y2="239.31" stroke="#333" stroke-width="0.6"/>
<ellipse cx="323.80" cy="238.56" rx="1.05" ry="1.75" fill="#000"/>
<ellipse cx="322.30" cy="243.44" rx="1.05" ry="1.75" fill="#000"/>
<ellipse cx="325.40" cy="244.38" rx="1.05" ry="1.75" fill="#000"/>
<ellipse cx="323.80" cy="248.50" rx="1.05" ry="1.75" fill="#000"/>
<ellipse cx="338.50" cy="184.19" rx="1.05" ry="1.75" fill="#000"/>
<ellipse cx="336.50" cy="210.06" rx="1.05" ry="1.75" fill="#000"/>
<ellipse cx="340.50" cy="211.19" rx="1.05" ry="1.75" fill="#000"/>
<ellipse cx="339.00" cy="212.88" rx="1.05" ry="1.75" fill="#000"/>
<ellipse cx="339.00" cy="221.31" rx="1.05" ry="1.75" fill="#000"/>
<ellipse cx="339.00" cy="234.62" rx="1.05" ry="1.75" fill="#000"/>
<ellipse cx="350.80" cy="234.62" rx="1.05" ry="1.75" fill="#000"/>
<ellipse cx="355.10" cy="235.56" rx="1.05" ry="1.75" fill="#000"/>
<ellipse cx="353.00" cy="238.56" rx="1.05" ry="1.75" fill="#000"/>
<ellipse cx="351.20" cy="241.38" rx="1.05" ry="1.75" fill="#000"/>
<ellipse cx="354.20" cy="241.94" rx="1.05" ry="1.75" fill="#000"/>
<ellipse cx="352.20" cy="246.25" rx="1.05" ry="1.75" fill="#000"/>
<text x="338.50" y="166.70" font-size="8" text-anchor="middle" fill="#333" font-style="italic" stroke="#333" stroke-width="0.1" >Nlrp3</text>
<polyline points="323.20,235.60 323.20,177.40 337.90,177.40 337.90,180.30" fill="none" stroke="#666" stroke-width="0.85"/>
<ellipse cx="326.95" cy="173.50" rx="1.1" ry="1.1" fill="#1a1a1a"/>
<ellipse cx="330.55" cy="173.50" rx="1.1" ry="1.1" fill="#1a1a1a"/>
<ellipse cx="334.15" cy="173.50" rx="1.1" ry="1.1" fill="#1a1a1a"/>
<polyline points="339.10,180.30 339.10,177.40 352.80,177.40 352.80,231.60" fill="none" stroke="#666" stroke-width="0.85"/>
<ellipse cx="342.35" cy="173.50" rx="1.1" ry="1.1" fill="#1a1a1a"/>
<ellipse cx="345.95" cy="173.50" rx="1.1" ry="1.1" fill="#1a1a1a"/>
<ellipse cx="349.55" cy="173.50" rx="1.1" ry="1.1" fill="#1a1a1a"/>
<path d="M380.20 250.00h-1.6M380.20 248.12h-1.6M380.20 246.25h-1.6M380.20 244.38h-1.6M380.20 242.50h-1.6M380.20 240.62h-1.6M380.20 238.75h-1.6M380.20 236.88h-1.6M380.20 235.00h-1.6M380.20 233.12h-1.6M380.20 231.25h-1.6M380.20 229.38h-1.6M380.20 227.50h-1.6M380.20 225.62h-1.6M380.20 223.75h-1.6M380.20 221.88h-1.6M380.20 220.00h-1.6M380.20 218.12h-1.6M380.20 216.25h-1.6M380.20 214.38h-1.6M380.20 212.50h-1.6M380.20 210.62h-1.6M380.20 208.75h-1.6M380.20 206.88h-1.6M380.20 205.00h-1.6M380.20 203.12h-1.6M380.20 201.25h-1.6M380.20 199.38h-1.6M380.20 197.50h-1.6M380.20 195.62h-1.6M380.20 193.75h-1.6M380.20 191.88h-1.6M380.20 190.00h-1.6M380.20 188.12h-1.6M380.20 186.25h-1.6M380.20 184.38h-1.6M380.20 182.50h-1.6M380.20 180.62h-1.6M380.20 178.75h-1.6M380.20 176.88h-1.6M380.20 175.00h-1.6" stroke="#222" stroke-width="0.7"/>
<line x1="377.20" y1="250.00" x2="380.20" y2="250.00" stroke="#222" stroke-width="0.8"/>
<text x="374.20" y="252.50" font-size="7.9" text-anchor="end" fill="#2a2a2a" stroke="#2a2a2a" stroke-width="0.15" >0</text>
<line x1="377.20" y1="231.25" x2="380.20" y2="231.25" stroke="#222" stroke-width="0.8"/>
<text x="374.20" y="233.75" font-size="7.9" text-anchor="end" fill="#2a2a2a" stroke="#2a2a2a" stroke-width="0.15" >1</text>
<line x1="377.20" y1="212.50" x2="380.20" y2="212.50" stroke="#222" stroke-width="0.8"/>
<text x="374.20" y="215.00" font-size="7.9" text-anchor="end" fill="#2a2a2a" stroke="#2a2a2a" stroke-width="0.15" >2</text>
<line x1="377.20" y1="193.75" x2="380.20" y2="193.75" stroke="#222" stroke-width="0.8"/>
<text x="374.20" y="196.25" font-size="7.9" text-anchor="end" fill="#2a2a2a" stroke="#2a2a2a" stroke-width="0.15" >3</text>
<line x1="377.20" y1="175.00" x2="380.20" y2="175.00" stroke="#222" stroke-width="0.8"/>
<text x="374.20" y="177.50" font-size="7.9" text-anchor="end" fill="#2a2a2a" stroke="#2a2a2a" stroke-width="0.15" >4</text>
<rect x="383.80" y="236.12" width="7.8" height="13.88" fill="#444e5e"/>
<rect x="397.90" y="222.44" width="7.8" height="27.56" fill="#ee4719"/>
<rect x="412.00" y="225.62" width="7.8" height="24.38" fill="#179c4b"/>
<line x1="380.20" y1="172.80" x2="380.20" y2="250.90" stroke="#1a1a1a" stroke-width="1.2"/>
<line x1="379.70" y1="250.30" x2="423.20" y2="250.30" stroke="#1a1a1a" stroke-width="1.3"/>
<line x1="387.70" y1="237.12" x2="387.70" y2="234.62" stroke="#333" stroke-width="0.6"/>
<line x1="386.20" y1="234.62" x2="389.20" y2="234.62" stroke="#333" stroke-width="0.6"/>
<line x1="401.80" y1="223.44" x2="401.80" y2="218.31" stroke="#333" stroke-width="0.6"/>
<line x1="400.30" y1="218.31" x2="403.30" y2="218.31" stroke="#333" stroke-width="0.6"/>
<line x1="415.90" y1="226.62" x2="415.90" y2="223.75" stroke="#333" stroke-width="0.6"/>
<line x1="414.40" y1="223.75" x2="417.40" y2="223.75" stroke="#333" stroke-width="0.6"/>
<ellipse cx="390.10" cy="229.19" rx="1.05" ry="1.75" fill="#000"/>
<ellipse cx="386.40" cy="232.00" rx="1.05" ry="1.75" fill="#000"/>
<ellipse cx="387.80" cy="232.75" rx="1.05" ry="1.75" fill="#000"/>
<ellipse cx="388.10" cy="238.75" rx="1.05" ry="1.75" fill="#000"/>
<ellipse cx="388.60" cy="241.00" rx="1.05" ry="1.75" fill="#000"/>
<ellipse cx="400.40" cy="208.38" rx="1.05" ry="1.75" fill="#000"/>
<ellipse cx="403.80" cy="212.88" rx="1.05" ry="1.75" fill="#000"/>
<ellipse cx="401.90" cy="224.12" rx="1.05" ry="1.75" fill="#000"/>
<ellipse cx="401.10" cy="227.88" rx="1.05" ry="1.75" fill="#000"/>
<ellipse cx="401.90" cy="230.12" rx="1.05" ry="1.75" fill="#000"/>
<ellipse cx="416.60" cy="212.50" rx="1.05" ry="1.75" fill="#000"/>
<ellipse cx="416.60" cy="223.19" rx="1.05" ry="1.75" fill="#000"/>
<ellipse cx="415.90" cy="225.62" rx="1.05" ry="1.75" fill="#000"/>
<ellipse cx="418.00" cy="226.56" rx="1.05" ry="1.75" fill="#000"/>
<ellipse cx="416.60" cy="230.12" rx="1.05" ry="1.75" fill="#000"/>
<text x="400.30" y="166.70" font-size="8" text-anchor="middle" fill="#333" font-style="italic" stroke="#333" stroke-width="0.1" >Il1b</text>
<polyline points="385.20,225.40 385.20,199.60 401.10,199.60 401.10,204.70" fill="none" stroke="#666" stroke-width="0.85"/>
<ellipse cx="393.15" cy="195.70" rx="1.1" ry="1.1" fill="#1a1a1a"/>
<path d="M445.50 250.00h-1.6M445.50 248.12h-1.6M445.50 246.25h-1.6M445.50 244.38h-1.6M445.50 242.50h-1.6M445.50 240.62h-1.6M445.50 238.75h-1.6M445.50 236.88h-1.6M445.50 235.00h-1.6M445.50 233.12h-1.6M445.50 231.25h-1.6M445.50 229.38h-1.6M445.50 227.50h-1.6M445.50 225.62h-1.6M445.50 223.75h-1.6M445.50 221.88h-1.6M445.50 220.00h-1.6M445.50 218.12h-1.6M445.50 216.25h-1.6M445.50 214.38h-1.6M445.50 212.50h-1.6M445.50 210.62h-1.6M445.50 208.75h-1.6M445.50 206.88h-1.6M445.50 205.00h-1.6M445.50 203.12h-1.6M445.50 201.25h-1.6M445.50 199.38h-1.6M445.50 197.50h-1.6M445.50 195.62h-1.6M445.50 193.75h-1.6M445.50 191.88h-1.6M445.50 190.00h-1.6M445.50 188.12h-1.6M445.50 186.25h-1.6M445.50 184.38h-1.6M445.50 182.50h-1.6M445.50 180.62h-1.6M445.50 178.75h-1.6M445.50 176.88h-1.6M445.50 175.00h-1.6" stroke="#222" stroke-width="0.7"/>
<line x1="442.50" y1="250.00" x2="445.50" y2="250.00" stroke="#222" stroke-width="0.8"/>
<text x="439.50" y="252.50" font-size="7.9" text-anchor="end" fill="#2a2a2a" stroke="#2a2a2a" stroke-width="0.15" >0</text>
<line x1="442.50" y1="231.25" x2="445.50" y2="231.25" stroke="#222" stroke-width="0.8"/>
<text x="439.50" y="233.75" font-size="7.9" text-anchor="end" fill="#2a2a2a" stroke="#2a2a2a" stroke-width="0.15" >5</text>
<line x1="442.50" y1="212.50" x2="445.50" y2="212.50" stroke="#222" stroke-width="0.8"/>
<text x="439.50" y="215.00" font-size="7.9" text-anchor="end" fill="#2a2a2a" stroke="#2a2a2a" stroke-width="0.15" >10</text>
<line x1="442.50" y1="193.75" x2="445.50" y2="193.75" stroke="#222" stroke-width="0.8"/>
<text x="439.50" y="196.25" font-size="7.9" text-anchor="end" fill="#2a2a2a" stroke="#2a2a2a" stroke-width="0.15" >15</text>
<line x1="442.50" y1="175.00" x2="445.50" y2="175.00" stroke="#222" stroke-width="0.8"/>
<text x="439.50" y="177.50" font-size="7.9" text-anchor="end" fill="#2a2a2a" stroke="#2a2a2a" stroke-width="0.15" >20</text>
<rect x="449.10" y="243.93" width="7.8" height="6.08" fill="#444e5e"/>
<rect x="463.20" y="220.00" width="7.8" height="30.00" fill="#ee4719"/>
<rect x="477.30" y="239.20" width="7.8" height="10.80" fill="#179c4b"/>
<line x1="445.50" y1="172.80" x2="445.50" y2="250.90" stroke="#1a1a1a" stroke-width="1.2"/>
<line x1="445.00" y1="250.30" x2="488.50" y2="250.30" stroke="#1a1a1a" stroke-width="1.3"/>
<line x1="453.00" y1="244.93" x2="453.00" y2="242.80" stroke="#333" stroke-width="0.6"/>
<line x1="451.50" y1="242.80" x2="454.50" y2="242.80" stroke="#333" stroke-width="0.6"/>
<line x1="467.10" y1="221.00" x2="467.10" y2="214.75" stroke="#333" stroke-width="0.6"/>
<line x1="465.60" y1="214.75" x2="468.60" y2="214.75" stroke="#333" stroke-width="0.6"/>
<line x1="481.20" y1="240.20" x2="481.20" y2="237.70" stroke="#333" stroke-width="0.6"/>
<line x1="479.70" y1="237.70" x2="482.70" y2="237.70" stroke="#333" stroke-width="0.6"/>
<ellipse cx="451.40" cy="239.69" rx="1.05" ry="1.75" fill="#000"/>
<ellipse cx="455.40" cy="239.01" rx="1.05" ry="1.75" fill="#000"/>
<ellipse cx="452.80" cy="242.69" rx="1.05" ry="1.75" fill="#000"/>
<ellipse cx="450.40" cy="245.50" rx="1.05" ry="1.75" fill="#000"/>
<ellipse cx="454.10" cy="246.32" rx="1.05" ry="1.75" fill="#000"/>
<ellipse cx="466.60" cy="193.38" rx="1.05" ry="1.75" fill="#000"/>
<ellipse cx="466.60" cy="214.49" rx="1.05" ry="1.75" fill="#000"/>
<ellipse cx="465.10" cy="221.88" rx="1.05" ry="1.75" fill="#000"/>
<ellipse cx="469.70" cy="224.50" rx="1.05" ry="1.75" fill="#000"/>
<ellipse cx="467.00" cy="230.12" rx="1.05" ry="1.75" fill="#000"/>
<ellipse cx="465.70" cy="234.62" rx="1.05" ry="1.75" fill="#000"/>
<ellipse cx="480.80" cy="230.99" rx="1.05" ry="1.75" fill="#000"/>
<ellipse cx="479.80" cy="235.60" rx="1.05" ry="1.75" fill="#000"/>
<ellipse cx="483.00" cy="239.12" rx="1.05" ry="1.75" fill="#000"/>
<ellipse cx="480.80" cy="242.12" rx="1.05" ry="1.75" fill="#000"/>
<ellipse cx="481.70" cy="244.75" rx="1.05" ry="1.75" fill="#000"/>
<text x="467.20" y="166.70" font-size="8" text-anchor="middle" fill="#333" font-style="italic" stroke="#333" stroke-width="0.1" >Il6</text>
<polyline points="451.40,237.50 451.40,184.20 466.20,184.20 466.20,188.20" fill="none" stroke="#666" stroke-width="0.85"/>
<ellipse cx="457.00" cy="180.30" rx="1.1" ry="1.1" fill="#1a1a1a"/>
<ellipse cx="460.60" cy="180.30" rx="1.1" ry="1.1" fill="#1a1a1a"/>
<polyline points="467.40,188.20 467.40,184.20 481.70,184.20 481.70,230.10" fill="none" stroke="#666" stroke-width="0.85"/>
<ellipse cx="472.75" cy="180.30" rx="1.1" ry="1.1" fill="#1a1a1a"/>
<ellipse cx="476.35" cy="180.30" rx="1.1" ry="1.1" fill="#1a1a1a"/>
<path d="M30.50 388.80h-1.6M30.50 386.93h-1.6M30.50 385.05h-1.6M30.50 383.18h-1.6M30.50 381.30h-1.6M30.50 379.43h-1.6M30.50 377.55h-1.6M30.50 375.68h-1.6M30.50 373.80h-1.6M30.50 371.93h-1.6M30.50 370.05h-1.6M30.50 368.18h-1.6M30.50 366.30h-1.6M30.50 364.43h-1.6M30.50 362.55h-1.6M30.50 360.68h-1.6M30.50 358.80h-1.6M30.50 356.93h-1.6M30.50 355.05h-1.6M30.50 353.18h-1.6M30.50 351.30h-1.6M30.50 349.43h-1.6M30.50 347.55h-1.6M30.50 345.68h-1.6M30.50 343.80h-1.6M30.50 341.93h-1.6M30.50 340.05h-1.6M30.50 338.18h-1.6M30.50 336.30h-1.6M30.50 334.43h-1.6M30.50 332.55h-1.6M30.50 330.68h-1.6M30.50 328.80h-1.6M30.50 326.93h-1.6M30.50 325.05h-1.6M30.50 323.18h-1.6M30.50 321.30h-1.6M30.50 319.43h-1.6M30.50 317.55h-1.6M30.50 315.68h-1.6M30.50 313.80h-1.6" stroke="#222" stroke-width="0.7"/>
<line x1="27.50" y1="388.80" x2="30.50" y2="388.80" stroke="#222" stroke-width="0.8"/>
<text x="24.50" y="391.30" font-size="7.9" text-anchor="end" fill="#2a2a2a" stroke="#2a2a2a" stroke-width="0.15" >0</text>
<line x1="27.50" y1="370.05" x2="30.50" y2="370.05" stroke="#222" stroke-width="0.8"/>
<text x="24.50" y="372.55" font-size="7.9" text-anchor="end" fill="#2a2a2a" stroke="#2a2a2a" stroke-width="0.15" >1</text>
<line x1="27.50" y1="351.30" x2="30.50" y2="351.30" stroke="#222" stroke-width="0.8"/>
<text x="24.50" y="353.80" font-size="7.9" text-anchor="end" fill="#2a2a2a" stroke="#2a2a2a" stroke-width="0.15" >2</text>
<line x1="27.50" y1="332.55" x2="30.50" y2="332.55" stroke="#222" stroke-width="0.8"/>
<text x="24.50" y="335.05" font-size="7.9" text-anchor="end" fill="#2a2a2a" stroke="#2a2a2a" stroke-width="0.15" >3</text>
<line x1="27.50" y1="313.80" x2="30.50" y2="313.80" stroke="#222" stroke-width="0.8"/>
<text x="24.50" y="316.30" font-size="7.9" text-anchor="end" fill="#2a2a2a" stroke="#2a2a2a" stroke-width="0.15" >4</text>
<rect x="34.10" y="368.18" width="7.8" height="20.62" fill="#444e5e"/>
<rect x="48.20" y="358.61" width="7.8" height="30.19" fill="#ee4719"/>
<rect x="62.30" y="373.24" width="7.8" height="15.56" fill="#179c4b"/>
<line x1="30.50" y1="311.60" x2="30.50" y2="389.70" stroke="#1a1a1a" stroke-width="1.2"/>
<line x1="30.00" y1="389.10" x2="73.50" y2="389.10" stroke="#1a1a1a" stroke-width="1.3"/>
<line x1="38.00" y1="369.18" x2="38.00" y2="366.30" stroke="#333" stroke-width="0.6"/>
<line x1="36.50" y1="366.30" x2="39.50" y2="366.30" stroke="#333" stroke-width="0.6"/>
<line x1="52.10" y1="359.61" x2="52.10" y2="354.86" stroke="#333" stroke-width="0.6"/>
<line x1="50.60" y1="354.86" x2="53.60" y2="354.86" stroke="#333" stroke-width="0.6"/>
<line x1="66.20" y1="374.24" x2="66.20" y2="370.43" stroke="#333" stroke-width="0.6"/>
<line x1="64.70" y1="370.43" x2="67.70" y2="370.43" stroke="#333" stroke-width="0.6"/>
<ellipse cx="37.60" cy="362.36" rx="1.05" ry="1.75" fill="#000"/>
<ellipse cx="36.40" cy="365.36" rx="1.05" ry="1.75" fill="#000"/>
<ellipse cx="38.50" cy="365.74" rx="1.05" ry="1.75" fill="#000"/>
<ellipse cx="37.60" cy="369.11" rx="1.05" ry="1.75" fill="#000"/>
<ellipse cx="37.60" cy="375.86" rx="1.05" ry="1.75" fill="#000"/>
<ellipse cx="51.70" cy="343.80" rx="1.05" ry="1.75" fill="#000"/>
<ellipse cx="52.80" cy="356.36" rx="1.05" ry="1.75" fill="#000"/>
<ellipse cx="50.00" cy="355.80" rx="1.05" ry="1.75" fill="#000"/>
<ellipse cx="51.20" cy="361.05" rx="1.05" ry="1.75" fill="#000"/>
<ellipse cx="53.40" cy="364.99" rx="1.05" ry="1.75" fill="#000"/>
<ellipse cx="50.30" cy="370.05" rx="1.05" ry="1.75" fill="#000"/>
<ellipse cx="65.90" cy="362.36" rx="1.05" ry="1.75" fill="#000"/>
<ellipse cx="63.80" cy="370.05" rx="1.05" ry="1.75" fill="#000"/>
<ellipse cx="67.60" cy="370.43" rx="1.05" ry="1.75" fill="#000"/>
<ellipse cx="65.90" cy="372.30" rx="1.05" ry="1.75" fill="#000"/>
<ellipse cx="67.60" cy="378.49" rx="1.05" ry="1.75" fill="#000"/>
<text x="52.20" y="302.50" font-size="8" text-anchor="middle" fill="#333" font-style="italic" stroke="#333" stroke-width="0.1" >Ifng</text>
<polyline points="50.60,340.30 50.60,334.90 65.90,334.90 65.90,356.40" fill="none" stroke="#666" stroke-width="0.85"/>
<ellipse cx="58.25" cy="331.00" rx="1.1" ry="1.1" fill="#1a1a1a"/>
<path d="M92.30 388.80h-1.6M92.30 386.93h-1.6M92.30 385.05h-1.6M92.30 383.18h-1.6M92.30 381.30h-1.6M92.30 379.43h-1.6M92.30 377.55h-1.6M92.30 375.68h-1.6M92.30 373.80h-1.6M92.30 371.93h-1.6M92.30 370.05h-1.6M92.30 368.18h-1.6M92.30 366.30h-1.6M92.30 364.43h-1.6M92.30 362.55h-1.6M92.30 360.68h-1.6M92.30 358.80h-1.6M92.30 356.93h-1.6M92.30 355.05h-1.6M92.30 353.18h-1.6M92.30 351.30h-1.6M92.30 349.43h-1.6M92.30 347.55h-1.6M92.30 345.68h-1.6M92.30 343.80h-1.6M92.30 341.93h-1.6M92.30 340.05h-1.6M92.30 338.18h-1.6M92.30 336.30h-1.6M92.30 334.43h-1.6M92.30 332.55h-1.6M92.30 330.68h-1.6M92.30 328.80h-1.6M92.30 326.93h-1.6M92.30 325.05h-1.6M92.30 323.18h-1.6M92.30 321.30h-1.6M92.30 319.43h-1.6M92.30 317.55h-1.6M92.30 315.68h-1.6M92.30 313.80h-1.6" stroke="#222" stroke-width="0.7"/>
<line x1="89.30" y1="388.80" x2="92.30" y2="388.80" stroke="#222" stroke-width="0.8"/>
<text x="86.30" y="391.30" font-size="7.9" text-anchor="end" fill="#2a2a2a" stroke="#2a2a2a" stroke-width="0.15" >0</text>
<line x1="89.30" y1="370.05" x2="92.30" y2="370.05" stroke="#222" stroke-width="0.8"/>
<text x="86.30" y="372.55" font-size="7.9" text-anchor="end" fill="#2a2a2a" stroke="#2a2a2a" stroke-width="0.15" >5</text>
<line x1="89.30" y1="351.30" x2="92.30" y2="351.30" stroke="#222" stroke-width="0.8"/>
<text x="86.30" y="353.80" font-size="7.9" text-anchor="end" fill="#2a2a2a" stroke="#2a2a2a" stroke-width="0.15" >10</text>
<line x1="89.30" y1="332.55" x2="92.30" y2="332.55" stroke="#222" stroke-width="0.8"/>
<text x="86.30" y="335.05" font-size="7.9" text-anchor="end" fill="#2a2a2a" stroke="#2a2a2a" stroke-width="0.15" >15</text>
<line x1="89.30" y1="313.80" x2="92.30" y2="313.80" stroke="#222" stroke-width="0.8"/>
<text x="86.30" y="316.30" font-size="7.9" text-anchor="end" fill="#2a2a2a" stroke="#2a2a2a" stroke-width="0.15" >20</text>
<rect x="95.90" y="380.74" width="7.8" height="8.06" fill="#444e5e"/>
<rect x="110.00" y="352.05" width="7.8" height="36.75" fill="#ee4719"/>
<rect x="124.10" y="380.55" width="7.8" height="8.25" fill="#179c4b"/>
<line x1="92.30" y1="311.60" x2="92.30" y2="389.70" stroke="#1a1a1a" stroke-width="1.2"/>
<line x1="91.80" y1="389.10" x2="135.30" y2="389.10" stroke="#1a1a1a" stroke-width="1.3"/>
<line x1="99.80" y1="381.74" x2="99.80" y2="379.61" stroke="#333" stroke-width="0.6"/>
<line x1="98.30" y1="379.61" x2="101.30" y2="379.61" stroke="#333" stroke-width="0.6"/>
<line x1="113.90" y1="353.05" x2="113.90" y2="343.05" stroke="#333" stroke-width="0.6"/>
<line x1="112.40" y1="343.05" x2="115.40" y2="343.05" stroke="#333" stroke-width="0.6"/>
<line x1="128.00" y1="381.55" x2="128.00" y2="378.30" stroke="#333" stroke-width="0.6"/>
<line x1="126.50" y1="378.30" x2="129.50" y2="378.30" stroke="#333" stroke-width="0.6"/>
<ellipse cx="95.70" cy="375.68" rx="1.05" ry="1.75" fill="#000"/>
<ellipse cx="100.20" cy="377.55" rx="1.05" ry="1.75" fill="#000"/>
<ellipse cx="102.20" cy="376.61" rx="1.05" ry="1.75" fill="#000"/>
<ellipse cx="98.10" cy="379.80" rx="1.05" ry="1.75" fill="#000"/>
<ellipse cx="97.10" cy="383.18" rx="1.05" ry="1.75" fill="#000"/>
<ellipse cx="113.10" cy="320.93" rx="1.05" ry="1.75" fill="#000"/>
<ellipse cx="113.10" cy="343.80" rx="1.05" ry="1.75" fill="#000"/>
<ellipse cx="114.10" cy="356.93" rx="1.05" ry="1.75" fill="#000"/>
<ellipse cx="115.50" cy="365.18" rx="1.05" ry="1.75" fill="#000"/>
<ellipse cx="112.00" cy="370.05" rx="1.05" ry="1.75" fill="#000"/>
<ellipse cx="127.80" cy="365.93" rx="1.05" ry="1.75" fill="#000"/>
<ellipse cx="127.20" cy="377.55" rx="1.05" ry="1.75" fill="#000"/>
<ellipse cx="129.80" cy="378.68" rx="1.05" ry="1.75" fill="#000"/>
<ellipse cx="125.70" cy="382.43" rx="1.05" ry="1.75" fill="#000"/>
<ellipse cx="127.80" cy="385.05" rx="1.05" ry="1.75" fill="#000"/>
<text x="114.00" y="302.50" font-size="8" text-anchor="middle" fill="#333" font-style="italic" stroke="#333" stroke-width="0.1" >Il4</text>
<polyline points="97.10,375.60 97.10,312.80 112.60,312.80 112.60,315.80" fill="none" stroke="#666" stroke-width="0.85"/>
<ellipse cx="103.05" cy="308.90" rx="1.1" ry="1.1" fill="#1a1a1a"/>
<ellipse cx="106.65" cy="308.90" rx="1.1" ry="1.1" fill="#1a1a1a"/>
<polyline points="113.80,315.80 113.80,312.80 128.40,312.80 128.40,374.00" fill="none" stroke="#666" stroke-width="0.85"/>
<ellipse cx="119.30" cy="308.90" rx="1.1" ry="1.1" fill="#1a1a1a"/>
<ellipse cx="122.90" cy="308.90" rx="1.1" ry="1.1" fill="#1a1a1a"/>
<path d="M151.30 388.80h-1.6M151.30 386.93h-1.6M151.30 385.05h-1.6M151.30 383.18h-1.6M151.30 381.30h-1.6M151.30 379.43h-1.6M151.30 377.55h-1.6M151.30 375.68h-1.6M151.30 373.80h-1.6M151.30 371.93h-1.6M151.30 370.05h-1.6M151.30 368.18h-1.6M151.30 366.30h-1.6M151.30 364.43h-1.6M151.30 362.55h-1.6M151.30 360.68h-1.6M151.30 358.80h-1.6M151.30 356.93h-1.6M151.30 355.05h-1.6M151.30 353.18h-1.6M151.30 351.30h-1.6M151.30 349.43h-1.6M151.30 347.55h-1.6M151.30 345.68h-1.6M151.30 343.80h-1.6M151.30 341.93h-1.6M151.30 340.05h-1.6M151.30 338.18h-1.6M151.30 336.30h-1.6M151.30 334.43h-1.6M151.30 332.55h-1.6M151.30 330.68h-1.6M151.30 328.80h-1.6M151.30 326.93h-1.6M151.30 325.05h-1.6M151.30 323.18h-1.6M151.30 321.30h-1.6M151.30 319.43h-1.6M151.30 317.55h-1.6M151.30 315.68h-1.6M151.30 313.80h-1.6" stroke="#222" stroke-width="0.7"/>
<line x1="148.30" y1="388.80" x2="151.30" y2="388.80" stroke="#222" stroke-width="0.8"/>
<text x="145.30" y="391.30" font-size="7.9" text-anchor="end" fill="#2a2a2a" stroke="#2a2a2a" stroke-width="0.15" >0</text>
<line x1="148.30" y1="370.05" x2="151.30" y2="370.05" stroke="#222" stroke-width="0.8"/>
<text x="145.30" y="372.55" font-size="7.9" text-anchor="end" fill="#2a2a2a" stroke="#2a2a2a" stroke-width="0.15" >1</text>
<line x1="148.30" y1="351.30" x2="151.30" y2="351.30" stroke="#222" stroke-width="0.8"/>
<text x="145.30" y="353.80" font-size="7.9" text-anchor="end" fill="#2a2a2a" stroke="#2a2a2a" stroke-width="0.15" >2</text>
<line x1="148.30" y1="332.55" x2="151.30" y2="332.55" stroke="#222" stroke-width="0.8"/>
<text x="145.30" y="335.05" font-size="7.9" text-anchor="end" fill="#2a2a2a" stroke="#2a2a2a" stroke-width="0.15" >3</text>
<line x1="148.30" y1="313.80" x2="151.30" y2="313.80" stroke="#222" stroke-width="0.8"/>
<text x="145.30" y="316.30" font-size="7.9" text-anchor="end" fill="#2a2a2a" stroke="#2a2a2a" stroke-width="0.15" >4</text>
<rect x="154.90" y="374.36" width="7.8" height="14.44" fill="#444e5e"/>
<rect x="169.00" y="368.55" width="7.8" height="20.25" fill="#ee4719"/>
<rect x="183.10" y="372.86" width="7.8" height="15.94" fill="#179c4b"/>
<line x1="151.30" y1="311.60" x2="151.30" y2="389.70" stroke="#1a1a1a" stroke-width="1.2"/>
<line x1="150.80" y1="389.10" x2="194.30" y2="389.10" stroke="#1a1a1a" stroke-width="1.3"/>
<line x1="158.80" y1="375.36" x2="158.80" y2="372.49" stroke="#333" stroke-width="0.6"/>
<line x1="157.30" y1="372.49" x2="160.30" y2="372.49" stroke="#333" stroke-width="0.6"/>
<line x1="172.90" y1="369.55" x2="172.90" y2="364.80" stroke="#333" stroke-width="0.6"/>
<line x1="171.40" y1="364.80" x2="174.40" y2="364.80" stroke="#333" stroke-width="0.6"/>
<line x1="187.00" y1="373.86" x2="187.00" y2="370.61" stroke="#333" stroke-width="0.6"/>
<line x1="185.50" y1="370.61" x2="188.50" y2="370.61" stroke="#333" stroke-width="0.6"/>
<ellipse cx="159.00" cy="365.55" rx="1.05" ry="1.75" fill="#000"/>
<ellipse cx="157.10" cy="370.05" rx="1.05" ry="1.75" fill="#000"/>
<ellipse cx="158.30" cy="372.11" rx="1.05" ry="1.75" fill="#000"/>
<ellipse cx="160.40" cy="373.80" rx="1.05" ry="1.75" fill="#000"/>
<ellipse cx="161.20" cy="380.18" rx="1.05" ry="1.75" fill="#000"/>
<ellipse cx="171.30" cy="356.93" rx="1.05" ry="1.75" fill="#000"/>
<ellipse cx="174.50" cy="355.43" rx="1.05" ry="1.75" fill="#000"/>
<ellipse cx="172.80" cy="369.11" rx="1.05" ry="1.75" fill="#000"/>
<ellipse cx="176.40" cy="371.93" rx="1.05" ry="1.75" fill="#000"/>
<ellipse cx="171.30" cy="379.43" rx="1.05" ry="1.75" fill="#000"/>
<ellipse cx="174.50" cy="380.18" rx="1.05" ry="1.75" fill="#000"/>
<ellipse cx="187.60" cy="362.74" rx="1.05" ry="1.75" fill="#000"/>
<ellipse cx="185.50" cy="369.49" rx="1.05" ry="1.75" fill="#000"/>
<ellipse cx="189.90" cy="368.55" rx="1.05" ry="1.75" fill="#000"/>
<ellipse cx="189.00" cy="380.18" rx="1.05" ry="1.75" fill="#000"/>
<ellipse cx="185.80" cy="385.05" rx="1.05" ry="1.75" fill="#000"/>
<text x="173.00" y="302.50" font-size="8" text-anchor="middle" fill="#333" font-style="italic" stroke="#333" stroke-width="0.1" >Il17a</text>
<line x1="159.40" y1="351.00" x2="189.50" y2="351.00" stroke="#777" stroke-width="0.9"/>
<text x="174.45" y="348.80" font-size="7" text-anchor="middle" fill="#2a2a2a" stroke="#2a2a2a" stroke-width="0.15" >ns</text>
<path d="M210.80 388.80h-1.6M210.80 386.93h-1.6M210.80 385.05h-1.6M210.80 383.18h-1.6M210.80 381.30h-1.6M210.80 379.43h-1.6M210.80 377.55h-1.6M210.80 375.68h-1.6M210.80 373.80h-1.6M210.80 371.93h-1.6M210.80 370.05h-1.6M210.80 368.18h-1.6M210.80 366.30h-1.6M210.80 364.43h-1.6M210.80 362.55h-1.6M210.80 360.68h-1.6M210.80 358.80h-1.6M210.80 356.93h-1.6M210.80 355.05h-1.6M210.80 353.18h-1.6M210.80 351.30h-1.6M210.80 349.43h-1.6M210.80 347.55h-1.6M210.80 345.68h-1.6M210.80 343.80h-1.6M210.80 341.93h-1.6M210.80 340.05h-1.6M210.80 338.18h-1.6M210.80 336.30h-1.6M210.80 334.43h-1.6M210.80 332.55h-1.6M210.80 330.68h-1.6M210.80 328.80h-1.6M210.80 326.93h-1.6M210.80 325.05h-1.6M210.80 323.18h-1.6M210.80 321.30h-1.6M210.80 319.43h-1.6M210.80 317.55h-1.6M210.80 315.68h-1.6M210.80 313.80h-1.6" stroke="#222" stroke-width="0.7"/>
<line x1="207.80" y1="388.80" x2="210.80" y2="388.80" stroke="#222" stroke-width="0.8"/>
<text x="204.80" y="391.30" font-size="7.9" text-anchor="end" fill="#2a2a2a" stroke="#2a2a2a" stroke-width="0.15" >0</text>
<line x1="207.80" y1="370.05" x2="210.80" y2="370.05" stroke="#222" stroke-width="0.8"/>
<text x="204.80" y="372.55" font-size="7.9" text-anchor="end" fill="#2a2a2a" stroke="#2a2a2a" stroke-width="0.15" >2</text>
<line x1="207.80" y1="351.30" x2="210.80" y2="351.30" stroke="#222" stroke-width="0.8"/>
<text x="204.80" y="353.80" font-size="7.9" text-anchor="end" fill="#2a2a2a" stroke="#2a2a2a" stroke-width="0.15" >4</text>
<line x1="207.80" y1="332.55" x2="210.80" y2="332.55" stroke="#222" stroke-width="0.8"/>
<text x="204.80" y="335.05" font-size="7.9" text-anchor="end" fill="#2a2a2a" stroke="#2a2a2a" stroke-width="0.15" >6</text>
<line x1="207.80" y1="313.80" x2="210.80" y2="313.80" stroke="#222" stroke-width="0.8"/>
<text x="204.80" y="316.30" font-size="7.9" text-anchor="end" fill="#2a2a2a" stroke="#2a2a2a" stroke-width="0.15" >8</text>
<rect x="214.40" y="375.11" width="7.8" height="13.69" fill="#444e5e"/>
<rect x="228.50" y="372.68" width="7.8" height="16.12" fill="#ee4719"/>
<rect x="242.60" y="352.24" width="7.8" height="36.56" fill="#179c4b"/>
<line x1="210.80" y1="311.60" x2="210.80" y2="389.70" stroke="#1a1a1a" stroke-width="1.2"/>
<line x1="210.30" y1="389.10" x2="253.80" y2="389.10" stroke="#1a1a1a" stroke-width="1.3"/>
<line x1="218.30" y1="376.11" x2="218.30" y2="373.24" stroke="#333" stroke-width="0.6"/>
<line x1="216.80" y1="373.24" x2="219.80" y2="373.24" stroke="#333" stroke-width="0.6"/>
<line x1="232.40" y1="373.68" x2="232.40" y2="370.80" stroke="#333" stroke-width="0.6"/>
<line x1="230.90" y1="370.80" x2="233.90" y2="370.80" stroke="#333" stroke-width="0.6"/>
<line x1="246.50" y1="353.24" x2="246.50" y2="345.68" stroke="#333" stroke-width="0.6"/>
<line x1="245.00" y1="345.68" x2="248.00" y2="345.68" stroke="#333" stroke-width="0.6"/>
<ellipse cx="214.20" cy="371.36" rx="1.05" ry="1.75" fill="#000"/>
<ellipse cx="219.30" cy="370.24" rx="1.05" ry="1.75" fill="#000"/>
<ellipse cx="216.80" cy="373.80" rx="1.05" ry="1.75" fill="#000"/>
<ellipse cx="217.70" cy="379.43" rx="1.05" ry="1.75" fill="#000"/>
<ellipse cx="232.20" cy="365.64" rx="1.05" ry="1.75" fill="#000"/>
<ellipse cx="231.20" cy="371.93" rx="1.05" ry="1.75" fill="#000"/>
<ellipse cx="234.10" cy="371.46" rx="1.05" ry="1.75" fill="#000"/>
<ellipse cx="230.30" cy="376.61" rx="1.05" ry="1.75" fill="#000"/>
<ellipse cx="233.60" cy="378.49" rx="1.05" ry="1.75" fill="#000"/>
<ellipse cx="245.70" cy="332.83" rx="1.05" ry="1.75" fill="#000"/>
<ellipse cx="244.40" cy="340.99" rx="1.05" ry="1.75" fill="#000"/>
<ellipse cx="248.20" cy="340.05" rx="1.05" ry="1.75" fill="#000"/>
<ellipse cx="244.70" cy="361.24" rx="1.05" ry="1.75" fill="#000"/>
<ellipse cx="248.20" cy="365.36" rx="1.05" ry="1.75" fill="#000"/>
<ellipse cx="245.70" cy="369.11" rx="1.05" ry="1.75" fill="#000"/>
<text x="232.50" y="302.50" font-size="8" text-anchor="middle" fill="#333" font-style="italic" stroke="#333" stroke-width="0.1" >Il10</text>
<polyline points="231.40,362.10 231.40,324.30 246.40,324.30 246.40,327.80" fill="none" stroke="#666" stroke-width="0.85"/>
<ellipse cx="237.10" cy="320.40" rx="1.1" ry="1.1" fill="#1a1a1a"/>
<ellipse cx="240.70" cy="320.40" rx="1.1" ry="1.1" fill="#1a1a1a"/>
<path d="M290.30 388.80h-1.6M290.30 386.93h-1.6M290.30 385.05h-1.6M290.30 383.18h-1.6M290.30 381.30h-1.6M290.30 379.43h-1.6M290.30 377.55h-1.6M290.30 375.68h-1.6M290.30 373.80h-1.6M290.30 371.93h-1.6M290.30 370.05h-1.6M290.30 368.18h-1.6M290.30 366.30h-1.6M290.30 364.43h-1.6M290.30 362.55h-1.6M290.30 360.68h-1.6M290.30 358.80h-1.6M290.30 356.93h-1.6M290.30 355.05h-1.6M290.30 353.18h-1.6M290.30 351.30h-1.6M290.30 349.43h-1.6M290.30 347.55h-1.6M290.30 345.68h-1.6M290.30 343.80h-1.6M290.30 341.93h-1.6M290.30 340.05h-1.6M290.30 338.18h-1.6M290.30 336.30h-1.6M290.30 334.43h-1.6M290.30 332.55h-1.6M290.30 330.68h-1.6M290.30 328.80h-1.6M290.30 326.93h-1.6M290.30 325.05h-1.6M290.30 323.18h-1.6M290.30 321.30h-1.6M290.30 319.43h-1.6M290.30 317.55h-1.6M290.30 315.68h-1.6M290.30 313.80h-1.6" stroke="#222" stroke-width="0.7"/>
<line x1="287.30" y1="388.80" x2="290.30" y2="388.80" stroke="#222" stroke-width="0.8"/>
<text x="284.30" y="391.30" font-size="7.9" text-anchor="end" fill="#2a2a2a" stroke="#2a2a2a" stroke-width="0.15" >0</text>
<line x1="287.30" y1="370.05" x2="290.30" y2="370.05" stroke="#222" stroke-width="0.8"/>
<text x="284.30" y="372.55" font-size="7.9" text-anchor="end" fill="#2a2a2a" stroke="#2a2a2a" stroke-width="0.15" >1</text>
<line x1="287.30" y1="351.30" x2="290.30" y2="351.30" stroke="#222" stroke-width="0.8"/>
<text x="284.30" y="353.80" font-size="7.9" text-anchor="end" fill="#2a2a2a" stroke="#2a2a2a" stroke-width="0.15" >2</text>
<line x1="287.30" y1="332.55" x2="290.30" y2="332.55" stroke="#222" stroke-width="0.8"/>
<text x="284.30" y="335.05" font-size="7.9" text-anchor="end" fill="#2a2a2a" stroke="#2a2a2a" stroke-width="0.15" >3</text>
<line x1="287.30" y1="313.80" x2="290.30" y2="313.80" stroke="#222" stroke-width="0.8"/>
<text x="284.30" y="316.30" font-size="7.9" text-anchor="end" fill="#2a2a2a" stroke="#2a2a2a" stroke-width="0.15" >4</text>
<rect x="293.90" y="374.74" width="7.8" height="14.06" fill="#444e5e"/>
<rect x="308.00" y="365.74" width="7.8" height="23.06" fill="#ee4719"/>
<rect x="322.10" y="376.61" width="7.8" height="12.19" fill="#179c4b"/>
<line x1="290.30" y1="311.60" x2="290.30" y2="389.70" stroke="#1a1a1a" stroke-width="1.2"/>
<line x1="289.80" y1="389.10" x2="333.30" y2="389.10" stroke="#1a1a1a" stroke-width="1.3"/>
<line x1="297.80" y1="375.74" x2="297.80" y2="372.86" stroke="#333" stroke-width="0.6"/>
<line x1="296.30" y1="372.86" x2="299.30" y2="372.86" stroke="#333" stroke-width="0.6"/>
<line x1="311.90" y1="366.74" x2="311.90" y2="361.99" stroke="#333" stroke-width="0.6"/>
<line x1="310.40" y1="361.99" x2="313.40" y2="361.99" stroke="#333" stroke-width="0.6"/>
<line x1="326.00" y1="377.61" x2="326.00" y2="374.74" stroke="#333" stroke-width="0.6"/>
<line x1="324.50" y1="374.74" x2="327.50" y2="374.74" stroke="#333" stroke-width="0.6"/>
<ellipse cx="295.50" cy="369.11" rx="1.05" ry="1.75" fill="#000"/>
<ellipse cx="299.40" cy="368.93" rx="1.05" ry="1.75" fill="#000"/>
<ellipse cx="297.00" cy="372.30" rx="1.05" ry="1.75" fill="#000"/>
<ellipse cx="298.40" cy="372.30" rx="1.05" ry="1.75" fill="#000"/>
<ellipse cx="298.00" cy="377.18" rx="1.05" ry="1.75" fill="#000"/>
<ellipse cx="311.80" cy="353.55" rx="1.05" ry="1.75" fill="#000"/>
<ellipse cx="313.50" cy="356.93" rx="1.05" ry="1.75" fill="#000"/>
<ellipse cx="310.30" cy="360.86" rx="1.05" ry="1.75" fill="#000"/>
<ellipse cx="312.50" cy="369.68" rx="1.05" ry="1.75" fill="#000"/>
<ellipse cx="311.50" cy="372.86" rx="1.05" ry="1.75" fill="#000"/>
<ellipse cx="311.80" cy="380.18" rx="1.05" ry="1.75" fill="#000"/>
<ellipse cx="326.30" cy="364.80" rx="1.05" ry="1.75" fill="#000"/>
<ellipse cx="324.10" cy="373.24" rx="1.05" ry="1.75" fill="#000"/>
<ellipse cx="327.70" cy="373.24" rx="1.05" ry="1.75" fill="#000"/>
<ellipse cx="326.30" cy="376.05" rx="1.05" ry="1.75" fill="#000"/>
<ellipse cx="326.00" cy="381.68" rx="1.05" ry="1.75" fill="#000"/>
<text x="312.00" y="302.50" font-size="8" text-anchor="middle" fill="#333" font-style="italic" stroke="#333" stroke-width="0.1" >Tbet</text>
<polyline points="310.30,350.80 310.30,346.80 325.60,346.80 325.60,359.80" fill="none" stroke="#666" stroke-width="0.85"/>
<ellipse cx="317.95" cy="342.90" rx="1.1" ry="1.1" fill="#1a1a1a"/>
<path d="M351.30 388.80h-1.6M351.30 386.93h-1.6M351.30 385.05h-1.6M351.30 383.18h-1.6M351.30 381.30h-1.6M351.30 379.43h-1.6M351.30 377.55h-1.6M351.30 375.68h-1.6M351.30 373.80h-1.6M351.30 371.93h-1.6M351.30 370.05h-1.6M351.30 368.18h-1.6M351.30 366.30h-1.6M351.30 364.43h-1.6M351.30 362.55h-1.6M351.30 360.68h-1.6M351.30 358.80h-1.6M351.30 356.93h-1.6M351.30 355.05h-1.6M351.30 353.18h-1.6M351.30 351.30h-1.6M351.30 349.43h-1.6M351.30 347.55h-1.6M351.30 345.68h-1.6M351.30 343.80h-1.6M351.30 341.93h-1.6M351.30 340.05h-1.6M351.30 338.18h-1.6M351.30 336.30h-1.6M351.30 334.43h-1.6M351.30 332.55h-1.6M351.30 330.68h-1.6M351.30 328.80h-1.6M351.30 326.93h-1.6M351.30 325.05h-1.6M351.30 323.18h-1.6M351.30 321.30h-1.6M351.30 319.43h-1.6M351.30 317.55h-1.6M351.30 315.68h-1.6M351.30 313.80h-1.6" stroke="#222" stroke-width="0.7"/>
<line x1="348.30" y1="388.80" x2="351.30" y2="388.80" stroke="#222" stroke-width="0.8"/>
<text x="345.30" y="391.30" font-size="7.9" text-anchor="end" fill="#2a2a2a" stroke="#2a2a2a" stroke-width="0.15" >0</text>
<line x1="348.30" y1="370.05" x2="351.30" y2="370.05" stroke="#222" stroke-width="0.8"/>
<text x="345.30" y="372.55" font-size="7.9" text-anchor="end" fill="#2a2a2a" stroke="#2a2a2a" stroke-width="0.15" >2</text>
<line x1="348.30" y1="351.30" x2="351.30" y2="351.30" stroke="#222" stroke-width="0.8"/>
<text x="345.30" y="353.80" font-size="7.9" text-anchor="end" fill="#2a2a2a" stroke="#2a2a2a" stroke-width="0.15" >4</text>
<line x1="348.30" y1="332.55" x2="351.30" y2="332.55" stroke="#222" stroke-width="0.8"/>
<text x="345.30" y="335.05" font-size="7.9" text-anchor="end" fill="#2a2a2a" stroke="#2a2a2a" stroke-width="0.15" >6</text>
<line x1="348.30" y1="313.80" x2="351.30" y2="313.80" stroke="#222" stroke-width="0.8"/>
<text x="345.30" y="316.30" font-size="7.9" text-anchor="end" fill="#2a2a2a" stroke="#2a2a2a" stroke-width="0.15" >8</text>
<rect x="354.90" y="378.96" width="7.8" height="9.84" fill="#444e5e"/>
<rect x="369.00" y="353.93" width="7.8" height="34.88" fill="#ee4719"/>
<rect x="383.10" y="372.02" width="7.8" height="16.78" fill="#179c4b"/>
<line x1="351.30" y1="311.60" x2="351.30" y2="389.70" stroke="#1a1a1a" stroke-width="1.2"/>
<line x1="350.80" y1="389.10" x2="394.30" y2="389.10" stroke="#1a1a1a" stroke-width="1.3"/>
<line x1="358.80" y1="379.96" x2="358.80" y2="377.08" stroke="#333" stroke-width="0.6"/>
<line x1="357.30" y1="377.08" x2="360.30" y2="377.08" stroke="#333" stroke-width="0.6"/>
<line x1="372.90" y1="354.93" x2="372.90" y2="348.30" stroke="#333" stroke-width="0.6"/>
<line x1="371.40" y1="348.30" x2="374.40" y2="348.30" stroke="#333" stroke-width="0.6"/>
<line x1="387.00" y1="373.02" x2="387.00" y2="367.33" stroke="#333" stroke-width="0.6"/>
<line x1="385.50" y1="367.33" x2="388.50" y2="367.33" stroke="#333" stroke-width="0.6"/>
<ellipse cx="359.10" cy="370.99" rx="1.05" ry="1.75" fill="#000"/>
<ellipse cx="360.90" cy="373.80" rx="1.05" ry="1.75" fill="#000"/>
<ellipse cx="357.30" cy="376.61" rx="1.05" ry="1.75" fill="#000"/>
<ellipse cx="359.10" cy="380.36" rx="1.05" ry="1.75" fill="#000"/>
<ellipse cx="357.90" cy="383.18" rx="1.05" ry="1.75" fill="#000"/>
<ellipse cx="373.60" cy="337.61" rx="1.05" ry="1.75" fill="#000"/>
<ellipse cx="374.50" cy="339.39" rx="1.05" ry="1.75" fill="#000"/>
<ellipse cx="372.40" cy="346.61" rx="1.05" ry="1.75" fill="#000"/>
<ellipse cx="372.80" cy="357.49" rx="1.05" ry="1.75" fill="#000"/>
<ellipse cx="374.50" cy="362.36" rx="1.05" ry="1.75" fill="#000"/>
<ellipse cx="373.00" cy="375.68" rx="1.05" ry="1.75" fill="#000"/>
<ellipse cx="388.10" cy="350.36" rx="1.05" ry="1.75" fill="#000"/>
<ellipse cx="387.20" cy="372.86" rx="1.05" ry="1.75" fill="#000"/>
<ellipse cx="389.90" cy="372.49" rx="1.05" ry="1.75" fill="#000"/>
<ellipse cx="388.10" cy="376.61" rx="1.05" ry="1.75" fill="#000"/>
<ellipse cx="389.00" cy="379.43" rx="1.05" ry="1.75" fill="#000"/>
<text x="373.00" y="302.50" font-size="8" text-anchor="middle" fill="#333" font-style="italic" stroke="#333" stroke-width="0.1" >Gata3</text>
<polyline points="358.60,371.00 358.60,331.60 373.10,331.60 373.10,334.00" fill="none" stroke="#666" stroke-width="0.85"/>
<ellipse cx="364.05" cy="327.70" rx="1.1" ry="1.1" fill="#1a1a1a"/>
<ellipse cx="367.65" cy="327.70" rx="1.1" ry="1.1" fill="#1a1a1a"/>
<polyline points="373.60,333.10 373.60,325.50 388.10,325.50 388.10,346.60" fill="none" stroke="#666" stroke-width="0.85"/>
<ellipse cx="380.85" cy="321.60" rx="1.1" ry="1.1" fill="#1a1a1a"/>
<path d="M411.10 388.80h-1.6M411.10 386.93h-1.6M411.10 385.05h-1.6M411.10 383.18h-1.6M411.10 381.30h-1.6M411.10 379.43h-1.6M411.10 377.55h-1.6M411.10 375.68h-1.6M411.10 373.80h-1.6M411.10 371.93h-1.6M411.10 370.05h-1.6M411.10 368.18h-1.6M411.10 366.30h-1.6M411.10 364.43h-1.6M411.10 362.55h-1.6M411.10 360.68h-1.6M411.10 358.80h-1.6M411.10 356.93h-1.6M411.10 355.05h-1.6M411.10 353.18h-1.6M411.10 351.30h-1.6M411.10 349.43h-1.6M411.10 347.55h-1.6M411.10 345.68h-1.6M411.10 343.80h-1.6M411.10 341.93h-1.6M411.10 340.05h-1.6M411.10 338.18h-1.6M411.10 336.30h-1.6M411.10 334.43h-1.6M411.10 332.55h-1.6M411.10 330.68h-1.6M411.10 328.80h-1.6M411.10 326.93h-1.6M411.10 325.05h-1.6M411.10 323.18h-1.6M411.10 321.30h-1.6M411.10 319.43h-1.6M411.10 317.55h-1.6M411.10 315.68h-1.6M411.10 313.80h-1.6" stroke="#222" stroke-width="0.7"/>
<line x1="408.10" y1="388.80" x2="411.10" y2="388.80" stroke="#222" stroke-width="0.8"/>
<text x="405.10" y="391.30" font-size="7.9" text-anchor="end" fill="#2a2a2a" stroke="#2a2a2a" stroke-width="0.15" >0</text>
<line x1="408.10" y1="370.05" x2="411.10" y2="370.05" stroke="#222" stroke-width="0.8"/>
<text x="405.10" y="372.55" font-size="7.9" text-anchor="end" fill="#2a2a2a" stroke="#2a2a2a" stroke-width="0.15" >1</text>
<line x1="408.10" y1="351.30" x2="411.10" y2="351.30" stroke="#222" stroke-width="0.8"/>
<text x="405.10" y="353.80" font-size="7.9" text-anchor="end" fill="#2a2a2a" stroke="#2a2a2a" stroke-width="0.15" >2</text>
<line x1="408.10" y1="332.55" x2="411.10" y2="332.55" stroke="#222" stroke-width="0.8"/>
<text x="405.10" y="335.05" font-size="7.9" text-anchor="end" fill="#2a2a2a" stroke="#2a2a2a" stroke-width="0.15" >3</text>
<line x1="408.10" y1="313.80" x2="411.10" y2="313.80" stroke="#222" stroke-width="0.8"/>
<text x="405.10" y="316.30" font-size="7.9" text-anchor="end" fill="#2a2a2a" stroke="#2a2a2a" stroke-width="0.15" >4</text>
<rect x="414.70" y="371.36" width="7.8" height="17.44" fill="#444e5e"/>
<rect x="428.80" y="360.68" width="7.8" height="28.12" fill="#ee4719"/>
<rect x="442.90" y="376.99" width="7.8" height="11.81" fill="#179c4b"/>
<line x1="411.10" y1="311.60" x2="411.10" y2="389.70" stroke="#1a1a1a" stroke-width="1.2"/>
<line x1="410.60" y1="389.10" x2="454.10" y2="389.10" stroke="#1a1a1a" stroke-width="1.3"/>
<line x1="418.60" y1="372.36" x2="418.60" y2="369.86" stroke="#333" stroke-width="0.6"/>
<line x1="417.10" y1="369.86" x2="420.10" y2="369.86" stroke="#333" stroke-width="0.6"/>
<line x1="432.70" y1="361.68" x2="432.70" y2="351.30" stroke="#333" stroke-width="0.6"/>
<line x1="431.20" y1="351.30" x2="434.20" y2="351.30" stroke="#333" stroke-width="0.6"/>
<line x1="446.80" y1="377.99" x2="446.80" y2="373.24" stroke="#333" stroke-width="0.6"/>
<line x1="445.30" y1="373.24" x2="448.30" y2="373.24" stroke="#333" stroke-width="0.6"/>
<ellipse cx="416.90" cy="367.80" rx="1.05" ry="1.75" fill="#000"/>
<ellipse cx="421.20" cy="366.49" rx="1.05" ry="1.75" fill="#000"/>
<ellipse cx="418.70" cy="370.05" rx="1.05" ry="1.75" fill="#000"/>
<ellipse cx="417.60" cy="374.18" rx="1.05" ry="1.75" fill="#000"/>
<ellipse cx="418.70" cy="379.43" rx="1.05" ry="1.75" fill="#000"/>
<ellipse cx="433.10" cy="331.24" rx="1.05" ry="1.75" fill="#000"/>
<ellipse cx="432.60" cy="352.05" rx="1.05" ry="1.75" fill="#000"/>
<ellipse cx="431.30" cy="362.93" rx="1.05" ry="1.75" fill="#000"/>
<ellipse cx="434.40" cy="366.49" rx="1.05" ry="1.75" fill="#000"/>
<ellipse cx="432.60" cy="379.24" rx="1.05" ry="1.75" fill="#000"/>
<ellipse cx="447.10" cy="361.05" rx="1.05" ry="1.75" fill="#000"/>
<ellipse cx="447.10" cy="370.24" rx="1.05" ry="1.75" fill="#000"/>
<ellipse cx="446.20" cy="373.80" rx="1.05" ry="1.75" fill="#000"/>
<ellipse cx="448.90" cy="374.74" rx="1.05" ry="1.75" fill="#000"/>
<ellipse cx="447.60" cy="387.86" rx="1.05" ry="1.75" fill="#000"/>
<text x="432.80" y="302.50" font-size="8" text-anchor="middle" fill="#333" font-style="italic" stroke="#333" stroke-width="0.1" >Rorc</text>
<line x1="419.00" y1="324.90" x2="450.10" y2="324.90" stroke="#777" stroke-width="0.9"/>
<text x="434.55" y="322.70" font-size="7" text-anchor="middle" fill="#2a2a2a" stroke="#2a2a2a" stroke-width="0.15" >ns</text>
<path d="M470.40 388.80h-1.6M470.40 386.93h-1.6M470.40 385.05h-1.6M470.40 383.18h-1.6M470.40 381.30h-1.6M470.40 379.43h-1.6M470.40 377.55h-1.6M470.40 375.68h-1.6M470.40 373.80h-1.6M470.40 371.93h-1.6M470.40 370.05h-1.6M470.40 368.18h-1.6M470.40 366.30h-1.6M470.40 364.43h-1.6M470.40 362.55h-1.6M470.40 360.68h-1.6M470.40 358.80h-1.6M470.40 356.93h-1.6M470.40 355.05h-1.6M470.40 353.18h-1.6M470.40 351.30h-1.6M470.40 349.43h-1.6M470.40 347.55h-1.6M470.40 345.68h-1.6M470.40 343.80h-1.6M470.40 341.93h-1.6M470.40 340.05h-1.6M470.40 338.18h-1.6M470.40 336.30h-1.6M470.40 334.43h-1.6M470.40 332.55h-1.6M470.40 330.68h-1.6M470.40 328.80h-1.6M470.40 326.93h-1.6M470.40 325.05h-1.6M470.40 323.18h-1.6M470.40 321.30h-1.6M470.40 319.43h-1.6M470.40 317.55h-1.6M470.40 315.68h-1.6M470.40 313.80h-1.6" stroke="#222" stroke-width="0.7"/>
<line x1="467.40" y1="388.80" x2="470.40" y2="388.80" stroke="#222" stroke-width="0.8"/>
<text x="464.40" y="391.30" font-size="7.9" text-anchor="end" fill="#2a2a2a" stroke="#2a2a2a" stroke-width="0.15" >0</text>
<line x1="467.40" y1="370.05" x2="470.40" y2="370.05" stroke="#222" stroke-width="0.8"/>
<text x="464.40" y="372.55" font-size="7.9" text-anchor="end" fill="#2a2a2a" stroke="#2a2a2a" stroke-width="0.15" >1</text>
<line x1="467.40" y1="351.30" x2="470.40" y2="351.30" stroke="#222" stroke-width="0.8"/>
<text x="464.40" y="353.80" font-size="7.9" text-anchor="end" fill="#2a2a2a" stroke="#2a2a2a" stroke-width="0.15" >2</text>
<line x1="467.40" y1="332.55" x2="470.40" y2="332.55" stroke="#222" stroke-width="0.8"/>
<text x="464.40" y="335.05" font-size="7.9" text-anchor="end" fill="#2a2a2a" stroke="#2a2a2a" stroke-width="0.15" >3</text>
<line x1="467.40" y1="313.80" x2="470.40" y2="313.80" stroke="#222" stroke-width="0.8"/>
<text x="464.40" y="316.30" font-size="7.9" text-anchor="end" fill="#2a2a2a" stroke="#2a2a2a" stroke-width="0.15" >4</text>
<rect x="474.00" y="370.61" width="7.8" height="18.19" fill="#444e5e"/>
<rect x="488.10" y="360.68" width="7.8" height="28.12" fill="#ee4719"/>
<rect x="502.20" y="347.18" width="7.8" height="41.63" fill="#179c4b"/>
<line x1="470.40" y1="311.60" x2="470.40" y2="389.70" stroke="#1a1a1a" stroke-width="1.2"/>
<line x1="469.90" y1="389.10" x2="513.40" y2="389.10" stroke="#1a1a1a" stroke-width="1.3"/>
<line x1="477.90" y1="371.61" x2="477.90" y2="367.80" stroke="#333" stroke-width="0.6"/>
<line x1="476.40" y1="367.80" x2="479.40" y2="367.80" stroke="#333" stroke-width="0.6"/>
<line x1="492.00" y1="361.68" x2="492.00" y2="358.80" stroke="#333" stroke-width="0.6"/>
<line x1="490.50" y1="358.80" x2="493.50" y2="358.80" stroke="#333" stroke-width="0.6"/>
<line x1="506.10" y1="348.18" x2="506.10" y2="341.55" stroke="#333" stroke-width="0.6"/>
<line x1="504.60" y1="341.55" x2="507.60" y2="341.55" stroke="#333" stroke-width="0.6"/>
<ellipse cx="477.60" cy="359.36" rx="1.05" ry="1.75" fill="#000"/>
<ellipse cx="477.60" cy="368.36" rx="1.05" ry="1.75" fill="#000"/>
<ellipse cx="476.30" cy="371.93" rx="1.05" ry="1.75" fill="#000"/>
<ellipse cx="478.70" cy="372.86" rx="1.05" ry="1.75" fill="#000"/>
<ellipse cx="490.80" cy="354.30" rx="1.05" ry="1.75" fill="#000"/>
<ellipse cx="492.60" cy="355.61" rx="1.05" ry="1.75" fill="#000"/>
<ellipse cx="491.70" cy="358.43" rx="1.05" ry="1.75" fill="#000"/>
<ellipse cx="489.50" cy="360.68" rx="1.05" ry="1.75" fill="#000"/>
<ellipse cx="493.50" cy="362.55" rx="1.05" ry="1.75" fill="#000"/>
<ellipse cx="491.70" cy="369.11" rx="1.05" ry="1.75" fill="#000"/>
<ellipse cx="506.50" cy="328.05" rx="1.05" ry="1.75" fill="#000"/>
<ellipse cx="506.50" cy="333.11" rx="1.05" ry="1.75" fill="#000"/>
<ellipse cx="506.10" cy="338.18" rx="1.05" ry="1.75" fill="#000"/>
<ellipse cx="506.10" cy="344.74" rx="1.05" ry="1.75" fill="#000"/>
<ellipse cx="506.10" cy="352.05" rx="1.05" ry="1.75" fill="#000"/>
<ellipse cx="503.50" cy="358.43" rx="1.05" ry="1.75" fill="#000"/>
<ellipse cx="508.00" cy="358.43" rx="1.05" ry="1.75" fill="#000"/>
<text x="492.10" y="302.50" font-size="8" text-anchor="middle" fill="#333" font-style="italic" stroke="#333" stroke-width="0.1" >Foxp3</text>
<polyline points="491.70,354.80 491.70,321.30 506.50,321.30 506.50,325.80" fill="none" stroke="#666" stroke-width="0.85"/>
<ellipse cx="499.10" cy="317.40" rx="1.1" ry="1.1" fill="#1a1a1a"/>
<circle cx="205.3" cy="409" r="3.4" fill="#444e5e"/>
<text x="212.00" y="411.10" font-size="8" text-anchor="start" fill="#2a2a2a" stroke="#2a2a2a" stroke-width="0.15" >None</text>
<circle cx="241" cy="409" r="3.4" fill="#ee4719"/>
<text x="247.80" y="411.10" font-size="8" text-anchor="start" fill="#2a2a2a" stroke="#2a2a2a" stroke-width="0.15" textLength="22" lengthAdjust="spacing">"7+3"</text>
<circle cx="280.6" cy="409" r="3.4" fill="#179c4b"/>
<text x="287.00" y="411.10" font-size="8" text-anchor="start" fill="#2a2a2a" stroke="#2a2a2a" stroke-width="0.15" >CPX-351</text>
</svg></div></body></html>
